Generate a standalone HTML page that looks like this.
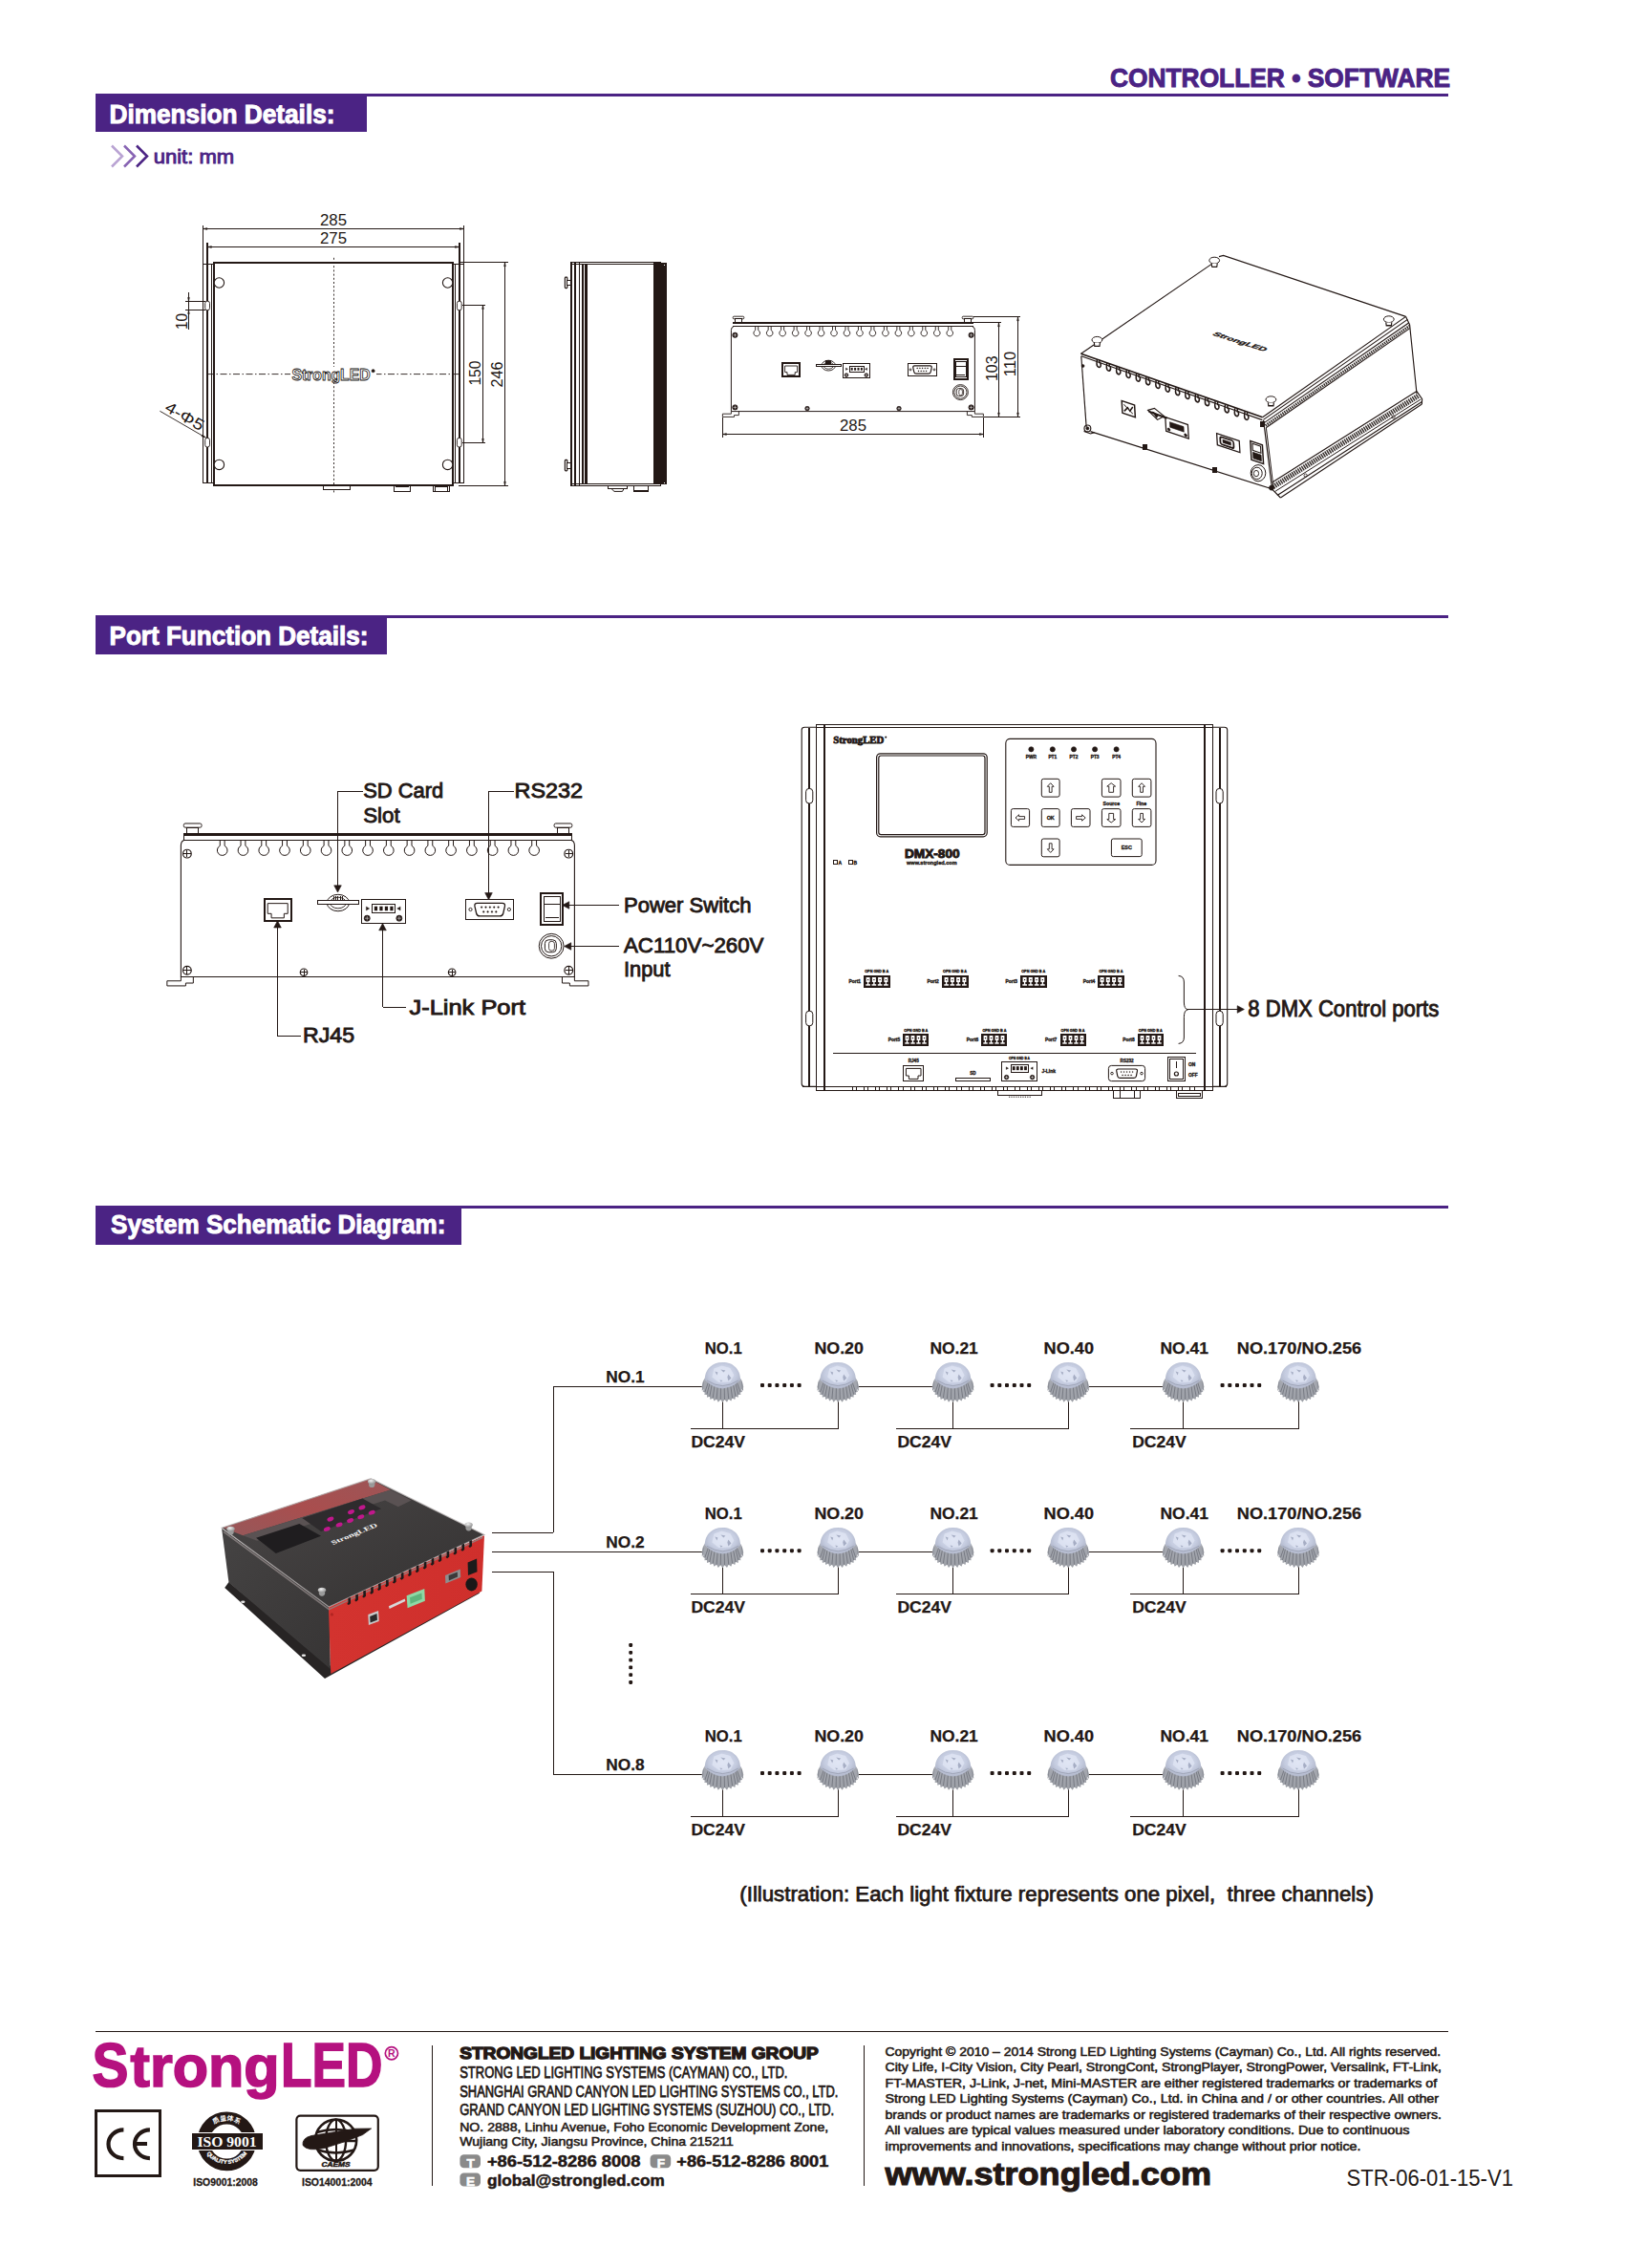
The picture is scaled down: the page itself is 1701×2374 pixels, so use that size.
<!DOCTYPE html>
<html lang="en">
<head>
<meta charset="utf-8">
<title>CONTROLLER • SOFTWARE</title>
<style>
html,body{margin:0;padding:0;background:#fff;}
body{width:1701px;height:2374px;overflow:hidden;font-family:"Liberation Sans",sans-serif;}
svg{display:block;position:absolute;left:0;top:0;}
svg text{font-family:"Liberation Sans",sans-serif;}
</style>
</head>
<body>
<svg width="1701" height="2374" viewBox="0 0 1701 2374" fill="none" stroke="#231815" stroke-width="1">
<!-- sec_header -->
<text x="1162" y="90.6" font-size="28.5" fill="#4b2384" font-weight="bold" textLength="356" lengthAdjust="spacingAndGlyphs" stroke="#4b2384" stroke-width="1.0">CONTROLLER • SOFTWARE</text>
<rect x="100" y="98" width="1416" height="3" fill="#4b2384" stroke="none" shape-rendering="crispEdges"/>
<rect x="100" y="98" width="284" height="40" fill="#4b2384" stroke="none" shape-rendering="crispEdges"/>
<text x="114.5" y="128.8" font-size="28.5" fill="#fff" font-weight="bold" textLength="236" lengthAdjust="spacingAndGlyphs" stroke="#fff" stroke-width="1.0">Dimension Details:</text>
<path d="M117 152.5 L128 163.5 L117 174.5" fill="none" stroke="#b9a3d3" stroke-width="2.5"/>
<path d="M130 152.5 L141 163.5 L130 174.5" fill="none" stroke="#8763b3" stroke-width="2.5"/>
<path d="M143 152.5 L154 163.5 L143 174.5" fill="none" stroke="#4b2384" stroke-width="2.5"/>
<text x="160.7" y="170.6" font-size="21" fill="#4b2384" textLength="84.5" lengthAdjust="spacingAndGlyphs" stroke="#4b2384" stroke-width="0.9">unit: mm</text>
<!-- sec_dim -->
<line x1="213" y1="239.5" x2="486" y2="239.5" shape-rendering="crispEdges"/>
<path d="M212.6 239.5 L216.8 238.6 L216.8 240.4Z" fill="#231815" stroke-width="0.5"/>
<path d="M485.6 239.5 L481.4 240.4 L481.4 238.6Z" fill="#231815" stroke-width="0.5"/>
<line x1="212.5" y1="236" x2="212.5" y2="506" shape-rendering="crispEdges"/>
<line x1="485.5" y1="236" x2="485.5" y2="506" shape-rendering="crispEdges"/>
<text x="335" y="236" font-size="16.5" fill="#231815" textLength="28" lengthAdjust="spacingAndGlyphs" stroke="none">285</text>
<line x1="217" y1="258.5" x2="481" y2="258.5" shape-rendering="crispEdges"/>
<path d="M217.2 258.5 L221.4 257.6 L221.4 259.4Z" fill="#231815" stroke-width="0.5"/>
<path d="M480.6 258.5 L476.4 259.4 L476.4 257.6Z" fill="#231815" stroke-width="0.5"/>
<line x1="217.0" y1="254" x2="217.0" y2="506" stroke-width="2" shape-rendering="crispEdges"/>
<line x1="481.0" y1="254" x2="481.0" y2="506" stroke-width="2" shape-rendering="crispEdges"/>
<text x="335" y="255.3" font-size="16.5" fill="#231815" textLength="28" lengthAdjust="spacingAndGlyphs" stroke="none">275</text>
<line x1="212" y1="276.5" x2="224" y2="276.5" shape-rendering="crispEdges"/>
<line x1="212" y1="505.5" x2="224" y2="505.5" shape-rendering="crispEdges"/>
<line x1="474" y1="276.5" x2="486" y2="276.5" shape-rendering="crispEdges"/>
<line x1="474" y1="505.5" x2="486" y2="505.5" shape-rendering="crispEdges"/>
<line x1="221.5" y1="276" x2="221.5" y2="506" shape-rendering="crispEdges"/>
<line x1="476.5" y1="276" x2="476.5" y2="506" shape-rendering="crispEdges"/>
<rect x="224.0" y="275.0" width="250.0" height="233.0" fill="none" stroke-width="2" shape-rendering="crispEdges"/>
<circle cx="229.4" cy="296" r="5.2" fill="#fff" stroke-width="1.1"/>
<circle cx="229.4" cy="486.4" r="5.2" fill="#fff" stroke-width="1.1"/>
<circle cx="468.6" cy="296" r="5.2" fill="#fff" stroke-width="1.1"/>
<circle cx="468.6" cy="486.4" r="5.2" fill="#fff" stroke-width="1.1"/>
<rect x="214.7" y="315.2" width="4.8" height="9.6" fill="#fff" stroke-width="0.9" rx="2.2"/>
<rect x="214.7" y="458.4" width="4.8" height="9.6" fill="#fff" stroke-width="0.9" rx="2.2"/>
<rect x="478.40000000000003" y="315.2" width="4.8" height="9.6" fill="#fff" stroke-width="0.9" rx="2.2"/>
<rect x="478.40000000000003" y="458.4" width="4.8" height="9.6" fill="#fff" stroke-width="0.9" rx="2.2"/>
<line x1="349.5" y1="269.8" x2="349.5" y2="515.5" stroke-width="0.9" stroke-dasharray="2 2.2"/>
<line x1="217" y1="391.6" x2="483" y2="391.6" stroke-width="0.9" stroke-dasharray="7 2.5 1.5 2.5"/>
<rect x="304" y="384" width="90" height="16" fill="#fff" stroke="none" shape-rendering="crispEdges"/>
<text x="305.5" y="398" font-size="17" fill="#fff" font-weight="bold" textLength="82" lengthAdjust="spacingAndGlyphs" stroke="#231815" stroke-width="0.9">StrongLED</text>
<circle cx="390.6" cy="388.2" r="1.6" fill="#231815" stroke-width="0.5"/>
<line x1="484" y1="319.5" x2="508" y2="319.5" shape-rendering="crispEdges"/>
<line x1="484" y1="463.5" x2="508" y2="463.5" shape-rendering="crispEdges"/>
<line x1="505.5" y1="319" x2="505.5" y2="464" shape-rendering="crispEdges"/>
<path d="M505.5 319.2 L506.4 323.4 L504.6 323.4Z" fill="#231815" stroke-width="0.5"/>
<path d="M505.5 463.5 L504.6 459.3 L506.4 459.3Z" fill="#231815" stroke-width="0.5"/>
<text x="503.2" y="403.6" font-size="16.5" fill="#231815" textLength="26" lengthAdjust="spacingAndGlyphs" stroke="none" transform="rotate(-90 503.2 403.6)">150</text>
<line x1="480" y1="274.5" x2="532" y2="274.5" shape-rendering="crispEdges"/>
<line x1="480" y1="508.5" x2="532" y2="508.5" shape-rendering="crispEdges"/>
<line x1="528.5" y1="275" x2="528.5" y2="508" shape-rendering="crispEdges"/>
<path d="M528.5 274.6 L529.4 278.8 L527.6 278.8Z" fill="#231815" stroke-width="0.5"/>
<path d="M528.5 508.4 L527.6 504.2 L529.4 504.2Z" fill="#231815" stroke-width="0.5"/>
<text x="526.3" y="405.4" font-size="16.5" fill="#231815" textLength="27" lengthAdjust="spacingAndGlyphs" stroke="none" transform="rotate(-90 526.3 405.4)">246</text>
<line x1="194" y1="315.5" x2="215" y2="315.5" shape-rendering="crispEdges"/>
<line x1="194" y1="324.5" x2="215" y2="324.5" shape-rendering="crispEdges"/>
<line x1="197.5" y1="306" x2="197.5" y2="345" shape-rendering="crispEdges"/>
<path d="M197.5 315.4 L196.6 311.4 L198.4 311.4Z" fill="#231815" stroke-width="0.5"/>
<path d="M197.5 324.5 L198.4 328.5 L196.6 328.5Z" fill="#231815" stroke-width="0.5"/>
<text x="195.8" y="345" font-size="16.5" fill="#231815" textLength="17" lengthAdjust="spacingAndGlyphs" stroke="none" transform="rotate(-90 195.8 345)">10</text>
<line x1="167.4" y1="430.3" x2="215.4" y2="458.1" stroke-width="0.9"/>
<path d="M215.4 458.1 L211.0 456.7 L212.0 455.0Z" fill="#231815" stroke-width="0.5"/>
<text x="171.5" y="429.5" font-size="16.5" fill="#231815" textLength="44" lengthAdjust="spacingAndGlyphs" stroke="none" transform="rotate(30 171.5 429.5)">4-Φ5</text>
<rect x="338.5" y="508.5" width="28.0" height="4.0" fill="#fff" shape-rendering="crispEdges"/>
<rect x="412.5" y="508.5" width="17.0" height="6.0" fill="#fff" shape-rendering="crispEdges"/>
<line x1="414" y1="509.5" x2="428" y2="509.5" shape-rendering="crispEdges"/>
<rect x="453.5" y="508.5" width="17.0" height="6.0" fill="#fff" shape-rendering="crispEdges"/>
<rect x="455.5" y="509.5" width="13.0" height="5.0" fill="none" shape-rendering="crispEdges"/>
<rect x="597.5" y="274.5" width="94.0" height="234.0" fill="#fff" shape-rendering="crispEdges"/>
<line x1="598" y1="276.5" x2="692" y2="276.5" shape-rendering="crispEdges"/>
<line x1="598" y1="506.5" x2="692" y2="506.5" shape-rendering="crispEdges"/>
<rect x="684.5" y="275.5" width="13.0" height="231.0" fill="#231815" shape-rendering="crispEdges"/>
<rect x="695" y="277" width="1" height="1" fill="#fff" stroke="none" shape-rendering="crispEdges"/>
<rect x="695" y="505" width="1" height="1" fill="#fff" stroke="none" shape-rendering="crispEdges"/>
<line x1="598.0" y1="274" x2="598.0" y2="508" stroke-width="2" shape-rendering="crispEdges"/>
<line x1="602.0" y1="274" x2="602.0" y2="508" stroke-width="2" shape-rendering="crispEdges"/>
<line x1="606.5" y1="274" x2="606.5" y2="508" shape-rendering="crispEdges"/>
<line x1="610.0" y1="276" x2="610.0" y2="506" stroke-width="2" shape-rendering="crispEdges"/>
<line x1="612.5" y1="276" x2="612.5" y2="506" shape-rendering="crispEdges"/>
<line x1="614.0" y1="276" x2="614.0" y2="506" stroke-width="2" shape-rendering="crispEdges"/>
<rect x="591.4" y="290.2" width="2.4" height="11.4" fill="#fff" stroke-width="1.2" rx="0.8"/>
<rect x="593.5" y="293.5" width="4.0" height="5.0" fill="#fff" shape-rendering="crispEdges"/>
<rect x="591.4" y="481.4" width="2.4" height="11.4" fill="#fff" stroke-width="1.2" rx="0.8"/>
<rect x="593.5" y="484.5" width="4.0" height="6.0" fill="#fff" shape-rendering="crispEdges"/>
<rect x="636.5" y="508.5" width="20.0" height="3.0" fill="#fff" shape-rendering="crispEdges"/>
<path d="M640 511.5 L653 511.5 L651.5 514.4 L643 514.4 Z" fill="#fff"/>
<rect x="663.5" y="508.5" width="15.0" height="6.0" fill="#fff" shape-rendering="crispEdges"/>
<line x1="663" y1="514.0" x2="679" y2="514.0" stroke-width="2" shape-rendering="crispEdges"/>
<rect x="767" y="337" width="252" height="2" fill="#231815" stroke="none" shape-rendering="crispEdges"/>
<line x1="767" y1="341.5" x2="1019" y2="341.5" shape-rendering="crispEdges"/>
<rect x="767.2" y="331.2" width="11.6" height="2.6" fill="#fff" stroke-width="0.9" rx="1.0"/>
<rect x="769.5" y="333.5" width="7.0" height="4.0" fill="#fff" shape-rendering="crispEdges"/>
<rect x="1007.2" y="331.2" width="11.6" height="2.6" fill="#fff" stroke-width="0.9" rx="1.0"/>
<rect x="1009.5" y="333.5" width="7.0" height="4.0" fill="#fff" shape-rendering="crispEdges"/>
<path d="M767.8 341.9 Q765.4 342.5 765.4 345.5 L765.4 430.6 L1020.4 430.6 L1020.4 345.5 Q1020.4 342.5 1018.0 341.9" fill="none" stroke-width="0.9900000000000001"/>
<path d="M790.70 341.9 L790.70 345.66 A3.3 3.3 0 1 0 793.70 345.66 L793.70 341.9" fill="none" stroke-width="0.9"/>
<path d="M804.17 341.9 L804.17 345.66 A3.3 3.3 0 1 0 807.17 345.66 L807.17 341.9" fill="none" stroke-width="0.9"/>
<path d="M817.64 341.9 L817.64 345.66 A3.3 3.3 0 1 0 820.64 345.66 L820.64 341.9" fill="none" stroke-width="0.9"/>
<path d="M831.11 341.9 L831.11 345.66 A3.3 3.3 0 1 0 834.11 345.66 L834.11 341.9" fill="none" stroke-width="0.9"/>
<path d="M844.58 341.9 L844.58 345.66 A3.3 3.3 0 1 0 847.58 345.66 L847.58 341.9" fill="none" stroke-width="0.9"/>
<path d="M858.05 341.9 L858.05 345.66 A3.3 3.3 0 1 0 861.05 345.66 L861.05 341.9" fill="none" stroke-width="0.9"/>
<path d="M871.52 341.9 L871.52 345.66 A3.3 3.3 0 1 0 874.52 345.66 L874.52 341.9" fill="none" stroke-width="0.9"/>
<path d="M884.99 341.9 L884.99 345.66 A3.3 3.3 0 1 0 887.99 345.66 L887.99 341.9" fill="none" stroke-width="0.9"/>
<path d="M898.46 341.9 L898.46 345.66 A3.3 3.3 0 1 0 901.46 345.66 L901.46 341.9" fill="none" stroke-width="0.9"/>
<path d="M911.93 341.9 L911.93 345.66 A3.3 3.3 0 1 0 914.93 345.66 L914.93 341.9" fill="none" stroke-width="0.9"/>
<path d="M925.40 341.9 L925.40 345.66 A3.3 3.3 0 1 0 928.40 345.66 L928.40 341.9" fill="none" stroke-width="0.9"/>
<path d="M938.87 341.9 L938.87 345.66 A3.3 3.3 0 1 0 941.87 345.66 L941.87 341.9" fill="none" stroke-width="0.9"/>
<path d="M952.34 341.9 L952.34 345.66 A3.3 3.3 0 1 0 955.34 345.66 L955.34 341.9" fill="none" stroke-width="0.9"/>
<path d="M965.81 341.9 L965.81 345.66 A3.3 3.3 0 1 0 968.81 345.66 L968.81 341.9" fill="none" stroke-width="0.9"/>
<path d="M979.28 341.9 L979.28 345.66 A3.3 3.3 0 1 0 982.28 345.66 L982.28 341.9" fill="none" stroke-width="0.9"/>
<path d="M992.75 341.9 L992.75 345.66 A3.3 3.3 0 1 0 995.75 345.66 L995.75 341.9" fill="none" stroke-width="0.9"/>
<circle cx="769.4" cy="350.8" r="2.7" fill="#231815" stroke-width="0.6"/>
<path d="M767.50 350.8 L771.30 350.8 M769.4 348.90 L769.4 352.70" fill="none" stroke="#fff" stroke-width="0.5"/>
<circle cx="1016.6" cy="350.8" r="2.7" fill="#231815" stroke-width="0.6"/>
<path d="M1014.70 350.8 L1018.50 350.8 M1016.6 348.90 L1016.6 352.70" fill="none" stroke="#fff" stroke-width="0.5"/>
<circle cx="769.4" cy="426.4" r="2.7" fill="#231815" stroke-width="0.6"/>
<path d="M767.50 426.4 L771.30 426.4 M769.4 424.50 L769.4 428.30" fill="none" stroke="#fff" stroke-width="0.5"/>
<circle cx="1016.6" cy="426.4" r="2.7" fill="#231815" stroke-width="0.6"/>
<path d="M1014.70 426.4 L1018.50 426.4 M1016.6 424.50 L1016.6 428.30" fill="none" stroke="#fff" stroke-width="0.5"/>
<circle cx="845.0" cy="427.6" r="2.3" fill="#231815" stroke-width="0.6"/>
<path d="M843.50 427.6 L846.50 427.6 M845.0 426.10 L845.0 429.10" fill="none" stroke="#fff" stroke-width="0.5"/>
<circle cx="941.0" cy="427.6" r="2.3" fill="#231815" stroke-width="0.6"/>
<path d="M939.50 427.6 L942.50 427.6 M941.0 426.10 L941.0 429.10" fill="none" stroke="#fff" stroke-width="0.5"/>
<path d="M765.4 430.6 L765.4 433.2 L756.4 433.2 L756.4 436.4 L768.5 436.4 L768.5 434.6 L773.4 434.6 L773.4 430.6" fill="none" stroke-width="0.9"/>
<path d="M1020.4 430.6 L1020.4 433.2 L1029.4 433.2 L1029.4 436.4 L1017.3 436.4 L1017.3 434.6 L1012.4 434.6 L1012.4 430.6" fill="none" stroke-width="0.9"/>
<rect x="819.0" y="380.0" width="18.0" height="14.0" fill="#fff" stroke-width="2" shape-rendering="crispEdges"/>
<path d="M821.6 383.0 L834.6 383.0 L834.6 389.6 L832.2 389.6 L832.2 392.4 L824.0 392.4 L824.0 389.6 L821.6 389.6 Z" fill="none" stroke-width="0.9"/>
<ellipse cx="867.2" cy="382.6" rx="7.2" ry="5.4" fill="#fff" stroke-width="0.9"/>
<ellipse cx="867.2" cy="382.6" rx="5.2" ry="3.6" stroke-width="0.81"/>
<rect x="854.5" y="381.5" width="26.0" height="2.0" fill="#fff" shape-rendering="crispEdges"/>
<rect x="864.5" y="377.5" width="5.0" height="4.0" fill="#231815" shape-rendering="crispEdges"/>
<rect x="882.5" y="380.5" width="28.0" height="15.0" fill="#fff" shape-rendering="crispEdges"/>
<rect x="889.5" y="383.5" width="15.0" height="6.0" fill="#fff" shape-rendering="crispEdges"/>
<rect x="890.7" y="384.9" width="2.0" height="2.8" fill="#231815" stroke="none"/>
<rect x="894.1" y="384.9" width="2.0" height="2.8" fill="#231815" stroke="none"/>
<rect x="897.5" y="384.9" width="2.0" height="2.8" fill="#231815" stroke="none"/>
<rect x="900.9" y="384.9" width="2.0" height="2.8" fill="#231815" stroke="none"/>
<path d="M887.6 386.3 l-2.2 -1.3 l0 2.6Z" fill="#231815" stroke-width="0.27"/>
<path d="M905.4 386.3 l2.2 -1.3 l0 2.6Z" fill="#231815" stroke-width="0.27"/>
<circle cx="886.0" cy="392.6" r="1.9" fill="#231815" stroke-width="0.6"/>
<path d="M884.90 392.6 L887.10 392.6 M886.0 391.50 L886.0 393.70" fill="none" stroke="#fff" stroke-width="0.5"/>
<circle cx="906.8" cy="392.6" r="1.9" fill="#231815" stroke-width="0.6"/>
<path d="M905.70 392.6 L907.90 392.6 M906.8 391.50 L906.8 393.70" fill="none" stroke="#fff" stroke-width="0.5"/>
<rect x="950.5" y="380.5" width="30.0" height="13.0" fill="#fff" shape-rendering="crispEdges"/>
<path d="M957.4 382.8 L973.6 382.8 Q975.6 382.8 975.2 385.0 L974.2 389.4 Q973.8 391.2 972.0 391.2 L959.0 391.2 Q957.2 391.2 956.8 389.4 L955.8 385.0 Q955.4 382.8 957.4 382.8Z" fill="#fff" stroke-width="1.1700000000000002"/>
<circle cx="960.2" cy="385.4" r="0.55" fill="#231815" stroke-width="0.3"/>
<circle cx="962.9" cy="385.4" r="0.55" fill="#231815" stroke-width="0.3"/>
<circle cx="965.6" cy="385.4" r="0.55" fill="#231815" stroke-width="0.3"/>
<circle cx="968.3" cy="385.4" r="0.55" fill="#231815" stroke-width="0.3"/>
<circle cx="971.0" cy="385.4" r="0.55" fill="#231815" stroke-width="0.3"/>
<circle cx="961.5" cy="388.4" r="0.55" fill="#231815" stroke-width="0.3"/>
<circle cx="964.2" cy="388.4" r="0.55" fill="#231815" stroke-width="0.3"/>
<circle cx="966.9" cy="388.4" r="0.55" fill="#231815" stroke-width="0.3"/>
<circle cx="969.6" cy="388.4" r="0.55" fill="#231815" stroke-width="0.3"/>
<circle cx="953.0" cy="386.9" r="1.0" fill="none" stroke-width="0.81"/>
<circle cx="978.0" cy="386.9" r="1.0" fill="none" stroke-width="0.81"/>
<rect x="999.0" y="376.0" width="14.0" height="21.0" fill="#fff" stroke-width="2" shape-rendering="crispEdges"/>
<rect x="1000.5" y="378.5" width="11.0" height="16.0" fill="#fff" shape-rendering="crispEdges"/>
<line x1="1001" y1="383.5" x2="1011" y2="383.5" shape-rendering="crispEdges"/>
<line x1="1001" y1="392.5" x2="1010" y2="392.5" shape-rendering="crispEdges"/>
<circle cx="1005.4" cy="410.6" r="8.0" fill="#fff" stroke-width="0.9"/>
<circle cx="1005.4" cy="410.6" r="6.6" fill="none" stroke-width="0.9"/>
<rect x="1001.2" y="406.6" width="7.4" height="8.0" fill="#fff" stroke-width="0.9" rx="2.4"/>
<rect x="1003.8" y="407.6" width="3.6" height="6.0" fill="none" stroke-width="0.7200000000000001" rx="1.5"/>
<line x1="756.5" y1="437" x2="756.5" y2="458" shape-rendering="crispEdges"/>
<line x1="1029.5" y1="437" x2="1029.5" y2="458" shape-rendering="crispEdges"/>
<line x1="756" y1="454.5" x2="1030" y2="454.5" shape-rendering="crispEdges"/>
<path d="M756.2 454.5 L760.4 453.6 L760.4 455.4Z" fill="#231815" stroke-width="0.5"/>
<path d="M1029.6 454.5 L1025.4 455.4 L1025.4 453.6Z" fill="#231815" stroke-width="0.5"/>
<text x="879" y="450.8" font-size="16.5" fill="#231815" textLength="28" lengthAdjust="spacingAndGlyphs" stroke="none">285</text>
<line x1="1019" y1="337.5" x2="1048" y2="337.5" shape-rendering="crispEdges"/>
<line x1="1019" y1="331.5" x2="1068" y2="331.5" shape-rendering="crispEdges"/>
<line x1="1030" y1="436.5" x2="1068" y2="436.5" shape-rendering="crispEdges"/>
<line x1="1045.5" y1="338" x2="1045.5" y2="436" shape-rendering="crispEdges"/>
<path d="M1045.5 337.6 L1046.4 341.8 L1044.6 341.8Z" fill="#231815" stroke-width="0.5"/>
<path d="M1045.5 436.3 L1044.6 432.1 L1046.4 432.1Z" fill="#231815" stroke-width="0.5"/>
<line x1="1065.5" y1="332" x2="1065.5" y2="436" shape-rendering="crispEdges"/>
<path d="M1065.5 331.5 L1066.4 335.7 L1064.6 335.7Z" fill="#231815" stroke-width="0.5"/>
<path d="M1065.5 436.3 L1064.6 432.1 L1066.4 432.1Z" fill="#231815" stroke-width="0.5"/>
<text x="1043.6" y="399" font-size="16.5" fill="#231815" textLength="26.5" lengthAdjust="spacingAndGlyphs" stroke="none" transform="rotate(-90 1043.6 399)">103</text>
<text x="1063" y="394.2" font-size="16.5" fill="#231815" textLength="26.5" lengthAdjust="spacingAndGlyphs" stroke="none" transform="rotate(-90 1063 394.2)">110</text>
<path d="M1131.5 370.2 L1268 276.6" fill="none" stroke-width="1.15"/>
<path d="M1276 268.6 L1280.6 267.4 L1471.6 331.4" fill="none" stroke-width="1.15"/>
<path d="M1131.5 370.2 L1321.6 436.8" fill="none" stroke-width="1.6"/>
<path d="M1131.8 372.8 L1321.4 439.6" fill="none" stroke-width="1.15"/>
<path d="M1321.6 436.8 L1471.6 331.4" fill="none" stroke-width="1.15"/>
<path d="M1322.4 439.4 L1473.4 334.4" fill="none" stroke-width="1.15"/>
<path d="M1323.6 442.4 L1474.6 338" fill="none" stroke-width="1.15"/>
<path d="M1324.6 445.4 L1475.4 341.2" fill="none" stroke="#3a3330" stroke-width="2.8" stroke-dasharray="1.5 0.9"/>
<path d="M1325.2 447.8 L1475.8 343.6" fill="none" stroke-width="1.15"/>
<path d="M1471.6 331.4 L1475.6 340 L1483 412" fill="none" stroke-width="1.15"/>
<path d="M1131.8 372.8 L1137.2 447.4" fill="none" stroke-width="1.15"/>
<path d="M1141.5 451.6 L1331.4 511.8" fill="none" stroke-width="1.15"/>
<path d="M1322.6 440 L1331.6 512" fill="none" stroke-width="1.15"/>
<path d="M1325.4 448 L1333 510" fill="none"/>
<rect x="1319.5" y="441.5" width="4.0" height="5.0" fill="#231815" shape-rendering="crispEdges"/>
<circle cx="1133.6" cy="383" r="1.5" fill="#231815" stroke-width="0.5"/>
<circle cx="1138.4" cy="448.4" r="3.4" fill="none" stroke-width="1.15"/>
<circle cx="1138.4" cy="448.4" r="1.6" fill="#231815" stroke-width="0.5"/>
<path d="M1134.6 451.4 L1141.6 454 L1145.6 452.6" fill="none" stroke-width="1.15"/>
<path d="M1331.6 505 L1483 409.6" fill="none" stroke-width="1.15"/>
<path d="M1332.6 509.6 L1485 414" fill="none" stroke="#3a3330" stroke-width="5.4" stroke-dasharray="1.5 0.9"/>
<path d="M1334.4 514.6 L1487.2 418" fill="none"/>
<path d="M1337 518.6 L1488.4 420.6" fill="none" stroke-width="1.15"/>
<path d="M1340.4 521 L1488.4 423" fill="none" stroke-width="1.15"/>
<path d="M1331.4 511.8 L1340.4 521" fill="none" stroke-width="1.2"/>
<path d="M1483 409.6 L1488.6 417.6 L1488.4 423" fill="none" stroke-width="1.15"/>
<circle cx="1331" cy="510.6" r="2.6" fill="#231815" stroke-width="0.5"/>
<circle cx="1366.6" cy="497.6" r="1.6" fill="none" stroke-width="0.8"/>
<circle cx="1458.6" cy="436.4" r="1.6" fill="none" stroke-width="0.8"/>
<ellipse cx="1271.2" cy="272.6" rx="5.4" ry="3.4" fill="#fff" stroke-width="1"/>
<path d="M1268.2 275.8 L1268.6000000000001 279.20000000000005 L1273.8 279.20000000000005 L1274.2 275.8" fill="#fff" stroke-width="1.15"/>
<line x1="1269" y1="279.5" x2="1274" y2="279.5" shape-rendering="crispEdges"/>
<ellipse cx="1148.4" cy="355.8" rx="5.4" ry="3.4" fill="#fff" stroke-width="1"/>
<path d="M1145.4 359.0 L1145.8000000000002 362.40000000000003 L1151.0 362.40000000000003 L1151.4 359.0" fill="#fff" stroke-width="1.15"/>
<line x1="1146" y1="362.5" x2="1151" y2="362.5" shape-rendering="crispEdges"/>
<ellipse cx="1453.8" cy="334.2" rx="5.4" ry="3.4" fill="#fff" stroke-width="1"/>
<path d="M1450.8 337.4 L1451.2 340.8 L1456.3999999999999 340.8 L1456.8 337.4" fill="#fff" stroke-width="1.15"/>
<line x1="1451" y1="340.5" x2="1456" y2="340.5" shape-rendering="crispEdges"/>
<ellipse cx="1330.4" cy="418.2" rx="5.4" ry="3.4" fill="#fff" stroke-width="1"/>
<path d="M1327.4 421.4 L1327.8000000000002 424.8 L1333.0 424.8 L1333.4 421.4" fill="#fff" stroke-width="1.15"/>
<line x1="1328" y1="424.5" x2="1333" y2="424.5" shape-rendering="crispEdges"/>
<path d="M1148.4 376.2 L1148.0 380.6 Q1148.0 384.2 1150.8 384.6 Q1153.0 383.6 1152.0 380.2 L1150.8 379.6 L1151.0 376.8" fill="none" stroke-width="1.5"/>
<path d="M1158.7 379.9 L1158.3 384.3 Q1158.3 387.9 1161.1 388.3 Q1163.3 387.3 1162.3 383.9 L1161.1 383.3 L1161.3 380.5" fill="none" stroke-width="1.5"/>
<path d="M1169.0 383.5 L1168.6 387.9 Q1168.6 391.5 1171.4 391.9 Q1173.6 390.9 1172.6 387.5 L1171.4 386.9 L1171.6 384.1" fill="none" stroke-width="1.5"/>
<path d="M1179.3 387.2 L1178.9 391.6 Q1178.9 395.2 1181.7 395.6 Q1183.9 394.6 1182.9 391.2 L1181.7 390.6 L1181.9 387.8" fill="none" stroke-width="1.5"/>
<path d="M1189.6 390.8 L1189.2 395.2 Q1189.2 398.8 1192.0 399.2 Q1194.2 398.2 1193.2 394.8 L1192.0 394.2 L1192.2 391.4" fill="none" stroke-width="1.5"/>
<path d="M1199.9 394.5 L1199.5 398.9 Q1199.5 402.5 1202.3 402.9 Q1204.5 401.9 1203.5 398.5 L1202.3 397.9 L1202.5 395.1" fill="none" stroke-width="1.5"/>
<path d="M1210.2 398.1 L1209.8 402.5 Q1209.8 406.1 1212.6 406.5 Q1214.8 405.5 1213.8 402.1 L1212.6 401.5 L1212.8 398.7" fill="none" stroke-width="1.5"/>
<path d="M1220.5 401.8 L1220.1 406.2 Q1220.1 409.8 1222.9 410.2 Q1225.1 409.2 1224.1 405.8 L1222.9 405.2 L1223.1 402.4" fill="none" stroke-width="1.5"/>
<path d="M1230.9 405.4 L1230.5 409.8 Q1230.5 413.4 1233.3 413.8 Q1235.5 412.8 1234.5 409.4 L1233.3 408.8 L1233.5 406.0" fill="none" stroke-width="1.5"/>
<path d="M1241.2 409.1 L1240.8 413.5 Q1240.8 417.1 1243.6 417.5 Q1245.8 416.5 1244.8 413.1 L1243.6 412.5 L1243.8 409.7" fill="none" stroke-width="1.5"/>
<path d="M1251.5 412.7 L1251.1 417.1 Q1251.1 420.7 1253.9 421.1 Q1256.1 420.1 1255.1 416.7 L1253.9 416.1 L1254.1 413.3" fill="none" stroke-width="1.5"/>
<path d="M1261.8 416.4 L1261.4 420.8 Q1261.4 424.4 1264.2 424.8 Q1266.4 423.8 1265.4 420.4 L1264.2 419.8 L1264.4 417.0" fill="none" stroke-width="1.5"/>
<path d="M1272.1 420.0 L1271.7 424.4 Q1271.7 428.0 1274.5 428.4 Q1276.7 427.4 1275.7 424.0 L1274.5 423.4 L1274.7 420.6" fill="none" stroke-width="1.5"/>
<path d="M1282.4 423.7 L1282.0 428.1 Q1282.0 431.7 1284.8 432.1 Q1287.0 431.1 1286.0 427.7 L1284.8 427.1 L1285.0 424.3" fill="none" stroke-width="1.5"/>
<path d="M1292.7 427.3 L1292.3 431.7 Q1292.3 435.3 1295.1 435.7 Q1297.3 434.7 1296.3 431.3 L1295.1 430.7 L1295.3 427.9" fill="none" stroke-width="1.5"/>
<path d="M1303.0 431.0 L1302.6 435.4 Q1302.6 439.0 1305.4 439.4 Q1307.6 438.4 1306.6 435.0 L1305.4 434.4 L1305.6 431.6" fill="none" stroke-width="1.5"/>
<g transform="translate(1174.2 419.6) matrix(1 0.335 0.06 1 0 0)">
<rect x="0" y="0" width="13.4" height="12.6" fill="#fff" stroke-width="1.5"/>
<path d="M2 10 L6 5 L8 8 L11.4 2.6" fill="none" stroke-width="1.4"/>
<line x1="2" y1="3" x2="11" y2="10"/>
</g>
<g transform="translate(1219.8 436.6) matrix(1 0.335 0.06 1 0 0)">
<rect x="0" y="0" width="23.6" height="14.6" fill="#fff" stroke-width="1.3"/>
<rect x="4.4" y="3.6" width="14.6" height="5.6" fill="#231815" stroke-width="0.5"/>
<circle cx="3" cy="12" r="1.5" fill="#231815" stroke-width="0.4"/>
<circle cx="20.6" cy="12" r="1.5" fill="#231815" stroke-width="0.4"/>
</g>
<g transform="translate(1273.6 453.6) matrix(1 0.335 0.06 1 0 0)">
<rect x="0" y="0" width="23.6" height="12.2" fill="#fff" stroke-width="1.3"/>
<rect x="3.4" y="2.2" width="14" height="7.8" fill="#fff" stroke-width="1.8" rx="2"/>
<rect x="6" y="4.4" width="8.6" height="3.4" fill="#231815" stroke-width="0.4"/>
</g>
<g transform="translate(1308.8 461.6) matrix(1 0.335 0.06 1 0 0)">
<rect x="0" y="0" width="12.6" height="19.6" fill="#fff" stroke-width="1.5"/>
<rect x="2" y="2" width="8.6" height="7" fill="#fff" stroke-width="1.15"/>
<rect x="2" y="11" width="8.6" height="6.6" fill="#231815" stroke-width="0.6"/>
</g>
<path d="M1201.6 429.4 L1208.4 427.4 L1218.6 435.6 L1211.6 439.4 Z" fill="#fff" stroke-width="1.1"/>
<path d="M1206.6 431 L1212.6 434.6 L1210.6 437.4 Z" fill="#231815" stroke-width="0.8"/>
<path d="M1202.6 430.6 L1221.6 437.8" fill="none" stroke-width="2"/>
<ellipse cx="1317" cy="495.2" rx="7.8" ry="8.6" fill="#fff" stroke-width="1"/>
<ellipse cx="1315.8" cy="495.4" rx="5.4" ry="6.2" stroke-width="1"/>
<ellipse cx="1315" cy="495.6" rx="2.6" ry="3.2" stroke-width="0.9"/>
<rect x="1196.5" y="465.5" width="4.0" height="5.0" fill="#231815" shape-rendering="crispEdges"/>
<rect x="1269.5" y="489.5" width="4.0" height="5.0" fill="#231815" shape-rendering="crispEdges"/>
<g transform="translate(1268.5 350.5) matrix(0.944 0.3 -0.58 0.4 0 0)">
<text x="0" y="0" font-size="11.5" fill="#231815" font-weight="bold" textLength="58" lengthAdjust="spacingAndGlyphs" stroke="#231815" stroke-width="0.5">StrongLED</text>
</g>
<!-- sec_port -->
<rect x="100" y="644" width="1416" height="3" fill="#4b2384" stroke="none" shape-rendering="crispEdges"/>
<rect x="100" y="644" width="305" height="41" fill="#4b2384" stroke="none" shape-rendering="crispEdges"/>
<text x="114.5" y="674.6" font-size="28.5" fill="#fff" font-weight="bold" textLength="271" lengthAdjust="spacingAndGlyphs" stroke="#fff" stroke-width="1.0">Port Function Details:</text>
<rect x="193" y="872" width="406" height="3" fill="#231815" stroke="none" shape-rendering="crispEdges"/>
<line x1="192.5" y1="872" x2="192.5" y2="879" shape-rendering="crispEdges"/>
<line x1="598.5" y1="872" x2="598.5" y2="879" shape-rendering="crispEdges"/>
<line x1="192" y1="879.5" x2="599" y2="879.5" shape-rendering="crispEdges"/>
<rect x="192.31" y="861.96" width="18.74" height="4.2" fill="#fff" rx="1.62"/>
<rect x="195.5" y="866.5" width="12.0" height="6.0" fill="#fff" shape-rendering="crispEdges"/>
<rect x="580.08" y="861.96" width="18.74" height="4.2" fill="#fff" rx="1.62"/>
<rect x="583.5" y="866.5" width="12.0" height="6.0" fill="#fff" shape-rendering="crispEdges"/>
<path d="M193.28 879.25 Q189.4 880.22 189.4 885.06 L189.4 1022.56 L601.4 1022.56 L601.4 885.06 Q601.4 880.22 597.53 879.25" fill="none" stroke-width="1.1"/>
<path d="M230.28 879.25 L230.28 885.32 A5.33 5.33 0 1 0 235.12 885.32 L235.12 879.25" fill="none"/>
<path d="M252.04 879.25 L252.04 885.32 A5.33 5.33 0 1 0 256.88 885.32 L256.88 879.25" fill="none"/>
<path d="M273.81 879.25 L273.81 885.32 A5.33 5.33 0 1 0 278.65 885.32 L278.65 879.25" fill="none"/>
<path d="M295.57 879.25 L295.57 885.32 A5.33 5.33 0 1 0 300.41 885.32 L300.41 879.25" fill="none"/>
<path d="M317.33 879.25 L317.33 885.32 A5.33 5.33 0 1 0 322.17 885.32 L322.17 879.25" fill="none"/>
<path d="M339.10 879.25 L339.10 885.32 A5.33 5.33 0 1 0 343.94 885.32 L343.94 879.25" fill="none"/>
<path d="M360.86 879.25 L360.86 885.32 A5.33 5.33 0 1 0 365.70 885.32 L365.70 879.25" fill="none"/>
<path d="M382.63 879.25 L382.63 885.32 A5.33 5.33 0 1 0 387.47 885.32 L387.47 879.25" fill="none"/>
<path d="M404.39 879.25 L404.39 885.32 A5.33 5.33 0 1 0 409.23 885.32 L409.23 879.25" fill="none"/>
<path d="M426.15 879.25 L426.15 885.32 A5.33 5.33 0 1 0 430.99 885.32 L430.99 879.25" fill="none"/>
<path d="M447.92 879.25 L447.92 885.32 A5.33 5.33 0 1 0 452.76 885.32 L452.76 879.25" fill="none"/>
<path d="M469.68 879.25 L469.68 885.32 A5.33 5.33 0 1 0 474.52 885.32 L474.52 879.25" fill="none"/>
<path d="M491.44 879.25 L491.44 885.32 A5.33 5.33 0 1 0 496.28 885.32 L496.28 879.25" fill="none"/>
<path d="M513.21 879.25 L513.21 885.32 A5.33 5.33 0 1 0 518.05 885.32 L518.05 879.25" fill="none"/>
<path d="M534.97 879.25 L534.97 885.32 A5.33 5.33 0 1 0 539.81 885.32 L539.81 879.25" fill="none"/>
<path d="M556.73 879.25 L556.73 885.32 A5.33 5.33 0 1 0 561.57 885.32 L561.57 879.25" fill="none"/>
<circle cx="195.86" cy="893.63" r="4.36" fill="#fff" stroke-width="1.2"/>
<line x1="192" y1="893.5" x2="200" y2="893.5" shape-rendering="crispEdges"/>
<line x1="195.5" y1="890" x2="195.5" y2="897" shape-rendering="crispEdges"/>
<circle cx="595.26" cy="893.63" r="4.36" fill="#fff" stroke-width="1.2"/>
<line x1="592" y1="893.5" x2="599" y2="893.5" shape-rendering="crispEdges"/>
<line x1="595.5" y1="890" x2="595.5" y2="897" shape-rendering="crispEdges"/>
<circle cx="195.86" cy="1015.77" r="4.36" fill="#fff" stroke-width="1.2"/>
<line x1="192" y1="1015.5" x2="200" y2="1015.5" shape-rendering="crispEdges"/>
<line x1="195.5" y1="1012" x2="195.5" y2="1020" shape-rendering="crispEdges"/>
<circle cx="595.26" cy="1015.77" r="4.36" fill="#fff" stroke-width="1.2"/>
<line x1="592" y1="1015.5" x2="599" y2="1015.5" shape-rendering="crispEdges"/>
<line x1="595.5" y1="1012" x2="595.5" y2="1020" shape-rendering="crispEdges"/>
<circle cx="318.01" cy="1017.71" r="3.72" fill="#fff" stroke-width="1.2"/>
<line x1="315" y1="1017.5" x2="321" y2="1017.5" shape-rendering="crispEdges"/>
<line x1="318.5" y1="1015" x2="318.5" y2="1021" shape-rendering="crispEdges"/>
<circle cx="473.12" cy="1017.71" r="3.72" fill="#fff" stroke-width="1.2"/>
<line x1="470" y1="1017.5" x2="476" y2="1017.5" shape-rendering="crispEdges"/>
<line x1="473.5" y1="1015" x2="473.5" y2="1021" shape-rendering="crispEdges"/>
<path d="M189.4 1022.56 L189.4 1026.76 L174.86 1026.76 L174.86 1031.93 L194.41 1031.93 L194.41 1029.02 L202.33 1029.02 L202.33 1022.56" fill="none"/>
<path d="M601.4 1022.56 L601.4 1026.76 L615.94 1026.76 L615.94 1031.93 L596.39 1031.93 L596.39 1029.02 L588.48 1029.02 L588.48 1022.56" fill="none"/>
<rect x="277.0" y="941.0" width="28.0" height="23.0" fill="#fff" stroke-width="2" shape-rendering="crispEdges"/>
<path d="M280.2 945.65 L301.21 945.65 L301.21 956.32 L297.33 956.32 L297.33 960.84 L284.08 960.84 L284.08 956.32 L280.2 956.32 Z" fill="none"/>
<ellipse cx="353.88" cy="945.01" rx="11.63" ry="8.72" fill="#fff" stroke-width="1.0"/>
<ellipse cx="353.88" cy="945.01" rx="8.4" ry="5.82" stroke-width="0.9"/>
<rect x="332.5" y="942.5" width="43.0" height="4.0" fill="#fff" shape-rendering="crispEdges"/>
<line x1="349.5" y1="938" x2="349.5" y2="942" shape-rendering="crispEdges"/>
<line x1="351.5" y1="938" x2="351.5" y2="942" shape-rendering="crispEdges"/>
<line x1="353.5" y1="938" x2="353.5" y2="942" shape-rendering="crispEdges"/>
<line x1="356.5" y1="938" x2="356.5" y2="942" shape-rendering="crispEdges"/>
<line x1="358.5" y1="938" x2="358.5" y2="942" shape-rendering="crispEdges"/>
<rect x="378.5" y="941.5" width="46.0" height="25.0" fill="#fff" shape-rendering="crispEdges"/>
<rect x="389.5" y="946.5" width="24.0" height="9.0" fill="#fff" shape-rendering="crispEdges"/>
<rect x="391.85" y="948.72" width="3.23" height="4.52" fill="#231815" stroke="none"/>
<rect x="397.34" y="948.72" width="3.23" height="4.52" fill="#231815" stroke="none"/>
<rect x="402.83" y="948.72" width="3.23" height="4.52" fill="#231815" stroke="none"/>
<rect x="408.33" y="948.72" width="3.23" height="4.52" fill="#231815" stroke="none"/>
<path d="M386.84 950.98 l-3.55 -2.1 l0 4.2Z" fill="#231815" stroke-width="0.3"/>
<path d="M415.6 950.98 l3.55 -2.1 l0 4.2Z" fill="#231815" stroke-width="0.3"/>
<circle cx="384.25" cy="961.16" r="3.07" fill="#231815" stroke-width="0.6"/>
<path d="M381.98 961.16 L386.52 961.16 M384.25 958.89 L384.25 963.43" fill="none" stroke="#fff" stroke-width="0.5"/>
<circle cx="417.86" cy="961.16" r="3.07" fill="#231815" stroke-width="0.6"/>
<path d="M415.59 961.16 L420.13 961.16 M417.86 958.89 L417.86 963.43" fill="none" stroke="#fff" stroke-width="0.5"/>
<rect x="487.5" y="941.5" width="50.0" height="21.0" fill="#fff" shape-rendering="crispEdges"/>
<path d="M499.61 945.33 L525.79 945.33 Q529.02 945.33 528.37 948.88 L526.76 955.99 Q526.11 958.9 523.2 958.9 L502.2 958.9 Q499.29 958.9 498.64 955.99 L497.03 948.88 Q496.38 945.33 499.61 945.33Z" fill="#fff" stroke-width="1.3"/>
<circle cx="504.14" cy="949.53" r="0.89" fill="#231815" stroke-width="0.3"/>
<circle cx="508.5" cy="949.53" r="0.89" fill="#231815" stroke-width="0.3"/>
<circle cx="512.86" cy="949.53" r="0.89" fill="#231815" stroke-width="0.3"/>
<circle cx="517.23" cy="949.53" r="0.89" fill="#231815" stroke-width="0.3"/>
<circle cx="521.59" cy="949.53" r="0.89" fill="#231815" stroke-width="0.3"/>
<circle cx="506.24" cy="954.38" r="0.89" fill="#231815" stroke-width="0.3"/>
<circle cx="510.6" cy="954.38" r="0.89" fill="#231815" stroke-width="0.3"/>
<circle cx="514.96" cy="954.38" r="0.89" fill="#231815" stroke-width="0.3"/>
<circle cx="519.33" cy="954.38" r="0.89" fill="#231815" stroke-width="0.3"/>
<circle cx="492.51" cy="951.95" r="1.62" fill="none" stroke-width="0.9"/>
<circle cx="532.9" cy="951.95" r="1.62" fill="none" stroke-width="0.9"/>
<rect x="566.0" y="935.0" width="23.0" height="33.0" fill="#fff" stroke-width="2" shape-rendering="crispEdges"/>
<rect x="569.5" y="938.5" width="17.0" height="26.0" fill="#fff" shape-rendering="crispEdges"/>
<line x1="569" y1="946.5" x2="586" y2="946.5" shape-rendering="crispEdges"/>
<line x1="571" y1="960.5" x2="585" y2="960.5" shape-rendering="crispEdges"/>
<circle cx="577.17" cy="990.25" r="12.93" fill="#fff"/>
<circle cx="577.17" cy="990.25" r="10.66" fill="none"/>
<rect x="570.38" y="983.78" width="11.96" height="12.93" fill="#fff" rx="3.88"/>
<rect x="574.58" y="985.4" width="5.82" height="9.69" fill="none" stroke-width="0.8" rx="2.42"/>
<line x1="380" y1="828.5" x2="353" y2="828.5" shape-rendering="crispEdges"/>
<line x1="353.5" y1="828" x2="353.5" y2="927" shape-rendering="crispEdges"/>
<path d="M353.5 934.0 L349.7 926.8 L357.3 926.8Z" fill="#231815" stroke-width="0.6"/>
<line x1="538" y1="828.5" x2="512" y2="828.5" shape-rendering="crispEdges"/>
<line x1="511.5" y1="828" x2="511.5" y2="935" shape-rendering="crispEdges"/>
<path d="M511.5 941.8 L507.7 934.6 L515.3 934.6Z" fill="#231815" stroke-width="0.6"/>
<line x1="648" y1="947.5" x2="595" y2="947.5" shape-rendering="crispEdges"/>
<path d="M588.6 947.5 L595.8 943.7 L595.8 951.3Z" fill="#231815" stroke-width="0.6"/>
<line x1="648" y1="990.5" x2="597" y2="990.5" shape-rendering="crispEdges"/>
<path d="M590.6 990.5 L597.8 986.7 L597.8 994.3Z" fill="#231815" stroke-width="0.6"/>
<line x1="425" y1="1054.5" x2="401" y2="1054.5" shape-rendering="crispEdges"/>
<line x1="400.5" y1="1054" x2="400.5" y2="973" shape-rendering="crispEdges"/>
<path d="M400.5 966.6 L404.3 973.8 L396.7 973.8Z" fill="#231815" stroke-width="0.6"/>
<line x1="315" y1="1084.5" x2="291" y2="1084.5" shape-rendering="crispEdges"/>
<line x1="290.5" y1="1085" x2="290.5" y2="970" shape-rendering="crispEdges"/>
<path d="M290.5 963.8 L294.3 971.0 L286.7 971.0Z" fill="#231815" stroke-width="0.6"/>
<text x="380.2" y="835.4" font-size="22.8" fill="#231815" textLength="84" lengthAdjust="spacingAndGlyphs" stroke="#231815" stroke-width="0.9">SD Card</text>
<text x="380.2" y="860.6" font-size="22.8" fill="#231815" textLength="38.5" lengthAdjust="spacingAndGlyphs" stroke="#231815" stroke-width="0.9">Slot</text>
<text x="538.6" y="835.4" font-size="22.8" fill="#231815" textLength="71.5" lengthAdjust="spacingAndGlyphs" stroke="#231815" stroke-width="0.9">RS232</text>
<text x="653" y="954.6" font-size="22.8" fill="#231815" textLength="133.5" lengthAdjust="spacingAndGlyphs" stroke="#231815" stroke-width="0.9">Power Switch</text>
<text x="653" y="996.6" font-size="22.8" fill="#231815" textLength="146.5" lengthAdjust="spacingAndGlyphs" stroke="#231815" stroke-width="0.9">AC110V~260V</text>
<text x="653" y="1021.6" font-size="22.8" fill="#231815" textLength="48.5" lengthAdjust="spacingAndGlyphs" stroke="#231815" stroke-width="0.9">Input</text>
<text x="428.5" y="1061.5" font-size="22.8" fill="#231815" textLength="121.5" lengthAdjust="spacingAndGlyphs" stroke="#231815" stroke-width="0.9">J-Link Port</text>
<text x="317" y="1091.4" font-size="22.8" fill="#231815" textLength="54" lengthAdjust="spacingAndGlyphs" stroke="#231815" stroke-width="0.9">RJ45</text>
<rect x="839.2" y="761.3" width="445.5" height="376" fill="#fff" stroke-width="1.1" rx="3"/>
<rect x="854.5" y="758.5" width="415.0" height="383.0" fill="#fff" shape-rendering="crispEdges"/>
<line x1="847.0" y1="762" x2="847.0" y2="1137" stroke-width="2" shape-rendering="crispEdges"/>
<line x1="863.0" y1="758" x2="863.0" y2="1141" stroke-width="2" shape-rendering="crispEdges"/>
<line x1="1261.0" y1="758" x2="1261.0" y2="1141" stroke-width="2" shape-rendering="crispEdges"/>
<line x1="1277.0" y1="762" x2="1277.0" y2="1137" stroke-width="2" shape-rendering="crispEdges"/>
<line x1="855" y1="761.5" x2="1270" y2="761.5" shape-rendering="crispEdges"/>
<line x1="840" y1="1137.5" x2="1284" y2="1137.5" shape-rendering="crispEdges"/>
<rect x="843.6" y="825.4000000000001" width="7.2" height="15.6" fill="#fff" rx="3.4"/>
<rect x="843.6" y="1058.2" width="7.2" height="15.6" fill="#fff" rx="3.4"/>
<rect x="1273.0" y="825.4000000000001" width="7.2" height="15.6" fill="#fff" rx="3.4"/>
<rect x="1273.0" y="1058.2" width="7.2" height="15.6" fill="#fff" rx="3.4"/>
<line x1="892.5" y1="1137" x2="892.5" y2="1141" shape-rendering="crispEdges"/>
<line x1="896.5" y1="1137" x2="896.5" y2="1141" shape-rendering="crispEdges"/>
<line x1="904.5" y1="1137" x2="904.5" y2="1141" shape-rendering="crispEdges"/>
<line x1="908.5" y1="1137" x2="908.5" y2="1141" shape-rendering="crispEdges"/>
<line x1="916.5" y1="1137" x2="916.5" y2="1141" shape-rendering="crispEdges"/>
<line x1="920.5" y1="1137" x2="920.5" y2="1141" shape-rendering="crispEdges"/>
<line x1="928.5" y1="1137" x2="928.5" y2="1141" shape-rendering="crispEdges"/>
<line x1="932.5" y1="1137" x2="932.5" y2="1141" shape-rendering="crispEdges"/>
<line x1="940.5" y1="1137" x2="940.5" y2="1141" shape-rendering="crispEdges"/>
<line x1="945.5" y1="1137" x2="945.5" y2="1141" shape-rendering="crispEdges"/>
<line x1="953.5" y1="1137" x2="953.5" y2="1141" shape-rendering="crispEdges"/>
<line x1="957.5" y1="1137" x2="957.5" y2="1141" shape-rendering="crispEdges"/>
<line x1="965.5" y1="1137" x2="965.5" y2="1141" shape-rendering="crispEdges"/>
<line x1="969.5" y1="1137" x2="969.5" y2="1141" shape-rendering="crispEdges"/>
<line x1="977.5" y1="1137" x2="977.5" y2="1141" shape-rendering="crispEdges"/>
<line x1="981.5" y1="1137" x2="981.5" y2="1141" shape-rendering="crispEdges"/>
<line x1="989.5" y1="1137" x2="989.5" y2="1141" shape-rendering="crispEdges"/>
<line x1="993.5" y1="1137" x2="993.5" y2="1141" shape-rendering="crispEdges"/>
<line x1="1001.5" y1="1137" x2="1001.5" y2="1141" shape-rendering="crispEdges"/>
<line x1="1006.5" y1="1137" x2="1006.5" y2="1141" shape-rendering="crispEdges"/>
<line x1="1014.5" y1="1137" x2="1014.5" y2="1141" shape-rendering="crispEdges"/>
<line x1="1018.5" y1="1137" x2="1018.5" y2="1141" shape-rendering="crispEdges"/>
<line x1="1026.5" y1="1137" x2="1026.5" y2="1141" shape-rendering="crispEdges"/>
<line x1="1030.5" y1="1137" x2="1030.5" y2="1141" shape-rendering="crispEdges"/>
<line x1="1038.5" y1="1137" x2="1038.5" y2="1141" shape-rendering="crispEdges"/>
<line x1="1042.5" y1="1137" x2="1042.5" y2="1141" shape-rendering="crispEdges"/>
<line x1="1050.5" y1="1137" x2="1050.5" y2="1141" shape-rendering="crispEdges"/>
<line x1="1054.5" y1="1137" x2="1054.5" y2="1141" shape-rendering="crispEdges"/>
<line x1="1062.5" y1="1137" x2="1062.5" y2="1141" shape-rendering="crispEdges"/>
<line x1="1067.5" y1="1137" x2="1067.5" y2="1141" shape-rendering="crispEdges"/>
<line x1="1075.5" y1="1137" x2="1075.5" y2="1141" shape-rendering="crispEdges"/>
<line x1="1079.5" y1="1137" x2="1079.5" y2="1141" shape-rendering="crispEdges"/>
<line x1="1087.5" y1="1137" x2="1087.5" y2="1141" shape-rendering="crispEdges"/>
<line x1="1091.5" y1="1137" x2="1091.5" y2="1141" shape-rendering="crispEdges"/>
<line x1="1099.5" y1="1137" x2="1099.5" y2="1141" shape-rendering="crispEdges"/>
<line x1="1103.5" y1="1137" x2="1103.5" y2="1141" shape-rendering="crispEdges"/>
<line x1="1111.5" y1="1137" x2="1111.5" y2="1141" shape-rendering="crispEdges"/>
<line x1="1115.5" y1="1137" x2="1115.5" y2="1141" shape-rendering="crispEdges"/>
<line x1="1123.5" y1="1137" x2="1123.5" y2="1141" shape-rendering="crispEdges"/>
<line x1="1128.5" y1="1137" x2="1128.5" y2="1141" shape-rendering="crispEdges"/>
<line x1="1136.5" y1="1137" x2="1136.5" y2="1141" shape-rendering="crispEdges"/>
<line x1="1140.5" y1="1137" x2="1140.5" y2="1141" shape-rendering="crispEdges"/>
<line x1="1148.5" y1="1137" x2="1148.5" y2="1141" shape-rendering="crispEdges"/>
<line x1="1152.5" y1="1137" x2="1152.5" y2="1141" shape-rendering="crispEdges"/>
<line x1="1160.5" y1="1137" x2="1160.5" y2="1141" shape-rendering="crispEdges"/>
<line x1="1164.5" y1="1137" x2="1164.5" y2="1141" shape-rendering="crispEdges"/>
<line x1="1172.5" y1="1137" x2="1172.5" y2="1141" shape-rendering="crispEdges"/>
<line x1="1176.5" y1="1137" x2="1176.5" y2="1141" shape-rendering="crispEdges"/>
<line x1="1184.5" y1="1137" x2="1184.5" y2="1141" shape-rendering="crispEdges"/>
<line x1="1189.5" y1="1137" x2="1189.5" y2="1141" shape-rendering="crispEdges"/>
<line x1="1197.5" y1="1137" x2="1197.5" y2="1141" shape-rendering="crispEdges"/>
<line x1="1201.5" y1="1137" x2="1201.5" y2="1141" shape-rendering="crispEdges"/>
<line x1="1209.5" y1="1137" x2="1209.5" y2="1141" shape-rendering="crispEdges"/>
<line x1="1213.5" y1="1137" x2="1213.5" y2="1141" shape-rendering="crispEdges"/>
<line x1="1221.5" y1="1137" x2="1221.5" y2="1141" shape-rendering="crispEdges"/>
<line x1="1225.5" y1="1137" x2="1225.5" y2="1141" shape-rendering="crispEdges"/>
<line x1="1233.5" y1="1137" x2="1233.5" y2="1141" shape-rendering="crispEdges"/>
<line x1="1237.5" y1="1137" x2="1237.5" y2="1141" shape-rendering="crispEdges"/>
<line x1="1245.5" y1="1137" x2="1245.5" y2="1141" shape-rendering="crispEdges"/>
<line x1="1250.5" y1="1137" x2="1250.5" y2="1141" shape-rendering="crispEdges"/>
<rect x="1044.5" y="1141.5" width="46.0" height="5.0" fill="#fff" shape-rendering="crispEdges"/>
<line x1="1056" y1="1148.2" x2="1080" y2="1148.2" stroke-dasharray="1.2 1.2"/>
<rect x="1165.5" y="1141.5" width="28.0" height="8.0" fill="#fff" shape-rendering="crispEdges"/>
<line x1="1172.5" y1="1141" x2="1172.5" y2="1150" shape-rendering="crispEdges"/>
<line x1="1187.5" y1="1141" x2="1187.5" y2="1150" shape-rendering="crispEdges"/>
<rect x="1231.5" y="1141.5" width="27.0" height="8.0" fill="#fff" shape-rendering="crispEdges"/>
<rect x="1233.5" y="1144.5" width="23.0" height="3.0" fill="none" shape-rendering="crispEdges"/>
<text x="872.3" y="778.4" font-size="10.6" fill="#231815" font-weight="bold" textLength="53" lengthAdjust="spacingAndGlyphs" stroke="#231815" stroke-width="0.8" style="font-family:'Liberation Serif',serif">StrongLED</text>
<circle cx="927.2" cy="771.6" r="0.9" fill="#231815" stroke-width="0.3"/>
<rect x="917.6" y="788.8" width="115.6" height="87" fill="#fff" stroke-width="1.2" rx="4"/>
<rect x="919.8" y="791" width="111.2" height="82.6" fill="none" stroke-width="1.2" rx="2.4"/>
<text x="947" y="898" font-size="12.6" fill="#231815" font-weight="bold" textLength="57.6" lengthAdjust="spacingAndGlyphs" stroke="#231815" stroke-width="0.9">DMX-800</text>
<text x="949" y="905.2" font-size="5.4" fill="#231815" font-weight="bold" textLength="52.6" lengthAdjust="spacingAndGlyphs" stroke="#231815" stroke-width="0.35">www.strongled.com</text>
<rect x="872.5" y="900.5" width="4.0" height="4.0" fill="none" shape-rendering="crispEdges"/>
<text x="877.6" y="905" font-size="5" fill="#231815" font-weight="bold" stroke="#231815" stroke-width="0.35">A</text>
<rect x="888.5" y="900.5" width="4.0" height="4.0" fill="none" shape-rendering="crispEdges"/>
<text x="893.4" y="905" font-size="5" fill="#231815" font-weight="bold" stroke="#231815" stroke-width="0.35">B</text>
<rect x="1052.8" y="773.4" width="157.2" height="132" fill="#fff" stroke-width="1.1" rx="4.5"/>
<circle cx="1079.4" cy="784.3" r="2.6" fill="#231815" stroke-width="0.6"/>
<text x="1079.4" y="794" font-size="4.8" fill="#231815" font-weight="bold" text-anchor="middle" stroke="#231815" stroke-width="0.35">PWR</text>
<circle cx="1101.8" cy="784.3" r="2.6" fill="#231815" stroke-width="0.6"/>
<text x="1101.8" y="794" font-size="4.8" fill="#231815" font-weight="bold" text-anchor="middle" stroke="#231815" stroke-width="0.35">PT1</text>
<circle cx="1124" cy="784.3" r="2.6" fill="#231815" stroke-width="0.6"/>
<text x="1124" y="794" font-size="4.8" fill="#231815" font-weight="bold" text-anchor="middle" stroke="#231815" stroke-width="0.35">PT2</text>
<circle cx="1146.1" cy="784.3" r="2.6" fill="#231815" stroke-width="0.6"/>
<text x="1146.1" y="794" font-size="4.8" fill="#231815" font-weight="bold" text-anchor="middle" stroke="#231815" stroke-width="0.35">PT3</text>
<circle cx="1168.6" cy="784.3" r="2.6" fill="#231815" stroke-width="0.6"/>
<text x="1168.6" y="794" font-size="4.8" fill="#231815" font-weight="bold" text-anchor="middle" stroke="#231815" stroke-width="0.35">PT4</text>
<rect x="1090.3" y="815.3" width="18.8" height="18.8" fill="#fff" rx="2"/>
<path d="M1099.7 819.6999999999999 L1103.1000000000001 823.3 L1101.1000000000001 823.3 L1101.1000000000001 829.3 L1098.3 829.3 L1098.3 823.3 L1096.3 823.3Z" fill="none" stroke-width="0.9"/>
<rect x="1153.4" y="815.3" width="19.6" height="18.8" fill="#fff" rx="2"/>
<path d="M1163.2 819.6999999999999 L1167.6000000000001 823.0999999999999 L1165.6000000000001 823.0999999999999 L1165.6000000000001 829.3 L1160.8 829.3 L1160.8 823.0999999999999 L1158.8 823.0999999999999Z" fill="none" stroke-width="0.9"/>
<rect x="1185.3" y="815.3" width="19.6" height="18.8" fill="#fff" rx="2"/>
<path d="M1195.1 819.6999999999999 L1198.5 823.3 L1196.5 823.3 L1196.5 829.3 L1193.6999999999998 829.3 L1193.6999999999998 823.3 L1191.6999999999998 823.3Z" fill="none" stroke-width="0.9"/>
<rect x="1058.4" y="846.6" width="19.2" height="18.8" fill="#fff" rx="2"/>
<path d="M1063.0 856.0 L1066.6 852.8 L1066.6 854.6 L1072.6 854.6 L1072.6 857.4 L1066.6 857.4 L1066.6 859.2Z" fill="none" stroke-width="0.9"/>
<rect x="1090.3" y="846.6" width="18.8" height="18.8" fill="#fff" rx="2"/>
<text x="1099.7" y="858" font-size="5.4" fill="#231815" font-weight="bold" text-anchor="middle" stroke="#231815" stroke-width="0.35">OK</text>
<rect x="1121.4" y="846.6" width="19.6" height="18.8" fill="#fff" rx="2"/>
<path d="M1136.2 856.0 L1132.6000000000001 852.8 L1132.6000000000001 854.6 L1126.6000000000001 854.6 L1126.6000000000001 857.4 L1132.6000000000001 857.4 L1132.6000000000001 859.2Z" fill="none" stroke-width="0.9"/>
<rect x="1153.4" y="846.6" width="19.6" height="18.8" fill="#fff" rx="2"/>
<path d="M1163.2 861.0 L1167.6000000000001 857.6 L1165.6000000000001 857.6 L1165.6000000000001 851.4 L1160.8 851.4 L1160.8 857.6 L1158.8 857.6Z" fill="none" stroke-width="0.9"/>
<rect x="1185.3" y="846.6" width="19.6" height="18.8" fill="#fff" rx="2"/>
<path d="M1195.1 861.0 L1198.5 857.4 L1196.5 857.4 L1196.5 851.4 L1193.6999999999998 851.4 L1193.6999999999998 857.4 L1191.6999999999998 857.4Z" fill="none" stroke-width="0.9"/>
<rect x="1090.3" y="878" width="18.8" height="18.8" fill="#fff" rx="2"/>
<path d="M1099.7 892.4 L1103.1000000000001 888.8 L1101.1000000000001 888.8 L1101.1000000000001 882.8 L1098.3 882.8 L1098.3 888.8 L1096.3 888.8Z" fill="none" stroke-width="0.9"/>
<rect x="1163.4" y="878" width="31.8" height="18.6" fill="#fff" rx="2"/>
<text x="1179.3" y="889.4" font-size="5.4" fill="#231815" font-weight="bold" text-anchor="middle" stroke="#231815" stroke-width="0.35">ESC</text>
<text x="1163.3" y="842.6" font-size="5.2" fill="#231815" font-weight="bold" text-anchor="middle" stroke="#231815" stroke-width="0.35">Source</text>
<text x="1194.8" y="842.6" font-size="5.2" fill="#231815" font-weight="bold" text-anchor="middle" stroke="#231815" stroke-width="0.35">Fine</text>
<rect x="904" y="1021" width="28" height="13" fill="#231815" stroke="none" shape-rendering="crispEdges"/>
<rect x="906.6" y="1023" width="4.0" height="5" fill="#fff" stroke="none"/>
<rect x="908.0" y="1025" width="1.2" height="1.2" fill="#231815" stroke="none"/>
<rect x="907.9" y="1028" width="1.4" height="3" fill="#fff" stroke="none"/>
<rect x="906.3" y="1030.2" width="4.7" height="1.5" fill="#fff" stroke="none"/>
<rect x="912.9" y="1023" width="4.0" height="5" fill="#fff" stroke="none"/>
<rect x="914.3" y="1025" width="1.2" height="1.2" fill="#231815" stroke="none"/>
<rect x="914.2" y="1028" width="1.4" height="3" fill="#fff" stroke="none"/>
<rect x="912.5" y="1030.2" width="4.7" height="1.5" fill="#fff" stroke="none"/>
<rect x="919.1" y="1023" width="4.0" height="5" fill="#fff" stroke="none"/>
<rect x="920.5" y="1025" width="1.2" height="1.2" fill="#231815" stroke="none"/>
<rect x="920.4" y="1028" width="1.4" height="3" fill="#fff" stroke="none"/>
<rect x="918.8" y="1030.2" width="4.7" height="1.5" fill="#fff" stroke="none"/>
<rect x="925.4" y="1023" width="4.0" height="5" fill="#fff" stroke="none"/>
<rect x="926.8" y="1025" width="1.2" height="1.2" fill="#231815" stroke="none"/>
<rect x="926.7" y="1028" width="1.4" height="3" fill="#fff" stroke="none"/>
<rect x="925.0" y="1030.2" width="4.7" height="1.5" fill="#fff" stroke="none"/>
<text x="888.6" y="1029.2" font-size="4.8" fill="#231815" font-weight="bold" textLength="12.4" lengthAdjust="spacingAndGlyphs" stroke="#231815" stroke-width="0.35">Port1</text>
<text x="905.2" y="1018.4" font-size="4.2" fill="#231815" font-weight="bold" textLength="25" lengthAdjust="spacingAndGlyphs" stroke="#231815" stroke-width="0.35">OPN GND B A</text>
<rect x="986" y="1021" width="28" height="13" fill="#231815" stroke="none" shape-rendering="crispEdges"/>
<rect x="988.6" y="1023" width="4.0" height="5" fill="#fff" stroke="none"/>
<rect x="990.0" y="1025" width="1.2" height="1.2" fill="#231815" stroke="none"/>
<rect x="989.9" y="1028" width="1.4" height="3" fill="#fff" stroke="none"/>
<rect x="988.3" y="1030.2" width="4.7" height="1.5" fill="#fff" stroke="none"/>
<rect x="994.9" y="1023" width="4.0" height="5" fill="#fff" stroke="none"/>
<rect x="996.3" y="1025" width="1.2" height="1.2" fill="#231815" stroke="none"/>
<rect x="996.2" y="1028" width="1.4" height="3" fill="#fff" stroke="none"/>
<rect x="994.5" y="1030.2" width="4.7" height="1.5" fill="#fff" stroke="none"/>
<rect x="1001.1" y="1023" width="4.0" height="5" fill="#fff" stroke="none"/>
<rect x="1002.5" y="1025" width="1.2" height="1.2" fill="#231815" stroke="none"/>
<rect x="1002.4" y="1028" width="1.4" height="3" fill="#fff" stroke="none"/>
<rect x="1000.8" y="1030.2" width="4.7" height="1.5" fill="#fff" stroke="none"/>
<rect x="1007.4" y="1023" width="4.0" height="5" fill="#fff" stroke="none"/>
<rect x="1008.8" y="1025" width="1.2" height="1.2" fill="#231815" stroke="none"/>
<rect x="1008.7" y="1028" width="1.4" height="3" fill="#fff" stroke="none"/>
<rect x="1007.0" y="1030.2" width="4.7" height="1.5" fill="#fff" stroke="none"/>
<text x="970.4" y="1029.2" font-size="4.8" fill="#231815" font-weight="bold" textLength="12.4" lengthAdjust="spacingAndGlyphs" stroke="#231815" stroke-width="0.35">Port2</text>
<text x="987" y="1018.4" font-size="4.2" fill="#231815" font-weight="bold" textLength="25" lengthAdjust="spacingAndGlyphs" stroke="#231815" stroke-width="0.35">OPN GND B A</text>
<rect x="1068" y="1021" width="28" height="13" fill="#231815" stroke="none" shape-rendering="crispEdges"/>
<rect x="1070.6" y="1023" width="4.0" height="5" fill="#fff" stroke="none"/>
<rect x="1072.0" y="1025" width="1.2" height="1.2" fill="#231815" stroke="none"/>
<rect x="1071.9" y="1028" width="1.4" height="3" fill="#fff" stroke="none"/>
<rect x="1070.3" y="1030.2" width="4.7" height="1.5" fill="#fff" stroke="none"/>
<rect x="1076.8" y="1023" width="4.0" height="5" fill="#fff" stroke="none"/>
<rect x="1078.3" y="1025" width="1.2" height="1.2" fill="#231815" stroke="none"/>
<rect x="1078.2" y="1028" width="1.4" height="3" fill="#fff" stroke="none"/>
<rect x="1076.5" y="1030.2" width="4.7" height="1.5" fill="#fff" stroke="none"/>
<rect x="1083.1" y="1023" width="4.0" height="5" fill="#fff" stroke="none"/>
<rect x="1084.5" y="1025" width="1.2" height="1.2" fill="#231815" stroke="none"/>
<rect x="1084.4" y="1028" width="1.4" height="3" fill="#fff" stroke="none"/>
<rect x="1082.8" y="1030.2" width="4.7" height="1.5" fill="#fff" stroke="none"/>
<rect x="1089.3" y="1023" width="4.0" height="5" fill="#fff" stroke="none"/>
<rect x="1090.8" y="1025" width="1.2" height="1.2" fill="#231815" stroke="none"/>
<rect x="1090.7" y="1028" width="1.4" height="3" fill="#fff" stroke="none"/>
<rect x="1089.0" y="1030.2" width="4.7" height="1.5" fill="#fff" stroke="none"/>
<text x="1052.6000000000001" y="1029.2" font-size="4.8" fill="#231815" font-weight="bold" textLength="12.4" lengthAdjust="spacingAndGlyphs" stroke="#231815" stroke-width="0.35">Port3</text>
<text x="1069.2" y="1018.4" font-size="4.2" fill="#231815" font-weight="bold" textLength="25" lengthAdjust="spacingAndGlyphs" stroke="#231815" stroke-width="0.35">OPN GND B A</text>
<rect x="1149" y="1021" width="28" height="13" fill="#231815" stroke="none" shape-rendering="crispEdges"/>
<rect x="1151.6" y="1023" width="4.0" height="5" fill="#fff" stroke="none"/>
<rect x="1153.0" y="1025" width="1.2" height="1.2" fill="#231815" stroke="none"/>
<rect x="1152.9" y="1028" width="1.4" height="3" fill="#fff" stroke="none"/>
<rect x="1151.3" y="1030.2" width="4.7" height="1.5" fill="#fff" stroke="none"/>
<rect x="1157.8" y="1023" width="4.0" height="5" fill="#fff" stroke="none"/>
<rect x="1159.3" y="1025" width="1.2" height="1.2" fill="#231815" stroke="none"/>
<rect x="1159.2" y="1028" width="1.4" height="3" fill="#fff" stroke="none"/>
<rect x="1157.5" y="1030.2" width="4.7" height="1.5" fill="#fff" stroke="none"/>
<rect x="1164.1" y="1023" width="4.0" height="5" fill="#fff" stroke="none"/>
<rect x="1165.5" y="1025" width="1.2" height="1.2" fill="#231815" stroke="none"/>
<rect x="1165.4" y="1028" width="1.4" height="3" fill="#fff" stroke="none"/>
<rect x="1163.8" y="1030.2" width="4.7" height="1.5" fill="#fff" stroke="none"/>
<rect x="1170.3" y="1023" width="4.0" height="5" fill="#fff" stroke="none"/>
<rect x="1171.8" y="1025" width="1.2" height="1.2" fill="#231815" stroke="none"/>
<rect x="1171.7" y="1028" width="1.4" height="3" fill="#fff" stroke="none"/>
<rect x="1170.0" y="1030.2" width="4.7" height="1.5" fill="#fff" stroke="none"/>
<text x="1133.8000000000002" y="1029.2" font-size="4.8" fill="#231815" font-weight="bold" textLength="12.4" lengthAdjust="spacingAndGlyphs" stroke="#231815" stroke-width="0.35">Port4</text>
<text x="1150.4" y="1018.4" font-size="4.2" fill="#231815" font-weight="bold" textLength="25" lengthAdjust="spacingAndGlyphs" stroke="#231815" stroke-width="0.35">OPN GND B A</text>
<rect x="945" y="1082" width="27" height="13" fill="#231815" stroke="none" shape-rendering="crispEdges"/>
<rect x="947.6" y="1084" width="3.8" height="5" fill="#fff" stroke="none"/>
<rect x="948.9" y="1086" width="1.2" height="1.2" fill="#231815" stroke="none"/>
<rect x="948.8" y="1089" width="1.4" height="3" fill="#fff" stroke="none"/>
<rect x="947.3" y="1091.2" width="4.4" height="1.5" fill="#fff" stroke="none"/>
<rect x="953.6" y="1084" width="3.8" height="5" fill="#fff" stroke="none"/>
<rect x="954.9" y="1086" width="1.2" height="1.2" fill="#231815" stroke="none"/>
<rect x="954.8" y="1089" width="1.4" height="3" fill="#fff" stroke="none"/>
<rect x="953.3" y="1091.2" width="4.4" height="1.5" fill="#fff" stroke="none"/>
<rect x="959.6" y="1084" width="3.8" height="5" fill="#fff" stroke="none"/>
<rect x="960.9" y="1086" width="1.2" height="1.2" fill="#231815" stroke="none"/>
<rect x="960.8" y="1089" width="1.4" height="3" fill="#fff" stroke="none"/>
<rect x="959.3" y="1091.2" width="4.4" height="1.5" fill="#fff" stroke="none"/>
<rect x="965.6" y="1084" width="3.8" height="5" fill="#fff" stroke="none"/>
<rect x="966.9" y="1086" width="1.2" height="1.2" fill="#231815" stroke="none"/>
<rect x="966.8" y="1089" width="1.4" height="3" fill="#fff" stroke="none"/>
<rect x="965.3" y="1091.2" width="4.4" height="1.5" fill="#fff" stroke="none"/>
<text x="929.6999999999999" y="1090.4" font-size="4.8" fill="#231815" font-weight="bold" textLength="12.4" lengthAdjust="spacingAndGlyphs" stroke="#231815" stroke-width="0.35">Port5</text>
<text x="946.3" y="1079.6" font-size="4.2" fill="#231815" font-weight="bold" textLength="25" lengthAdjust="spacingAndGlyphs" stroke="#231815" stroke-width="0.35">OPN GND B A</text>
<rect x="1027" y="1082" width="27" height="13" fill="#231815" stroke="none" shape-rendering="crispEdges"/>
<rect x="1029.6" y="1084" width="3.8" height="5" fill="#fff" stroke="none"/>
<rect x="1030.9" y="1086" width="1.2" height="1.2" fill="#231815" stroke="none"/>
<rect x="1030.8" y="1089" width="1.4" height="3" fill="#fff" stroke="none"/>
<rect x="1029.3" y="1091.2" width="4.4" height="1.5" fill="#fff" stroke="none"/>
<rect x="1035.6" y="1084" width="3.8" height="5" fill="#fff" stroke="none"/>
<rect x="1036.9" y="1086" width="1.2" height="1.2" fill="#231815" stroke="none"/>
<rect x="1036.8" y="1089" width="1.4" height="3" fill="#fff" stroke="none"/>
<rect x="1035.3" y="1091.2" width="4.4" height="1.5" fill="#fff" stroke="none"/>
<rect x="1041.6" y="1084" width="3.8" height="5" fill="#fff" stroke="none"/>
<rect x="1042.9" y="1086" width="1.2" height="1.2" fill="#231815" stroke="none"/>
<rect x="1042.8" y="1089" width="1.4" height="3" fill="#fff" stroke="none"/>
<rect x="1041.3" y="1091.2" width="4.4" height="1.5" fill="#fff" stroke="none"/>
<rect x="1047.6" y="1084" width="3.8" height="5" fill="#fff" stroke="none"/>
<rect x="1048.9" y="1086" width="1.2" height="1.2" fill="#231815" stroke="none"/>
<rect x="1048.8" y="1089" width="1.4" height="3" fill="#fff" stroke="none"/>
<rect x="1047.3" y="1091.2" width="4.4" height="1.5" fill="#fff" stroke="none"/>
<text x="1011.8000000000001" y="1090.4" font-size="4.8" fill="#231815" font-weight="bold" textLength="12.4" lengthAdjust="spacingAndGlyphs" stroke="#231815" stroke-width="0.35">Port6</text>
<text x="1028.4" y="1079.6" font-size="4.2" fill="#231815" font-weight="bold" textLength="25" lengthAdjust="spacingAndGlyphs" stroke="#231815" stroke-width="0.35">OPN GND B A</text>
<rect x="1110" y="1082" width="27" height="13" fill="#231815" stroke="none" shape-rendering="crispEdges"/>
<rect x="1112.6" y="1084" width="3.8" height="5" fill="#fff" stroke="none"/>
<rect x="1113.9" y="1086" width="1.2" height="1.2" fill="#231815" stroke="none"/>
<rect x="1113.8" y="1089" width="1.4" height="3" fill="#fff" stroke="none"/>
<rect x="1112.3" y="1091.2" width="4.4" height="1.5" fill="#fff" stroke="none"/>
<rect x="1118.6" y="1084" width="3.8" height="5" fill="#fff" stroke="none"/>
<rect x="1119.9" y="1086" width="1.2" height="1.2" fill="#231815" stroke="none"/>
<rect x="1119.8" y="1089" width="1.4" height="3" fill="#fff" stroke="none"/>
<rect x="1118.3" y="1091.2" width="4.4" height="1.5" fill="#fff" stroke="none"/>
<rect x="1124.6" y="1084" width="3.8" height="5" fill="#fff" stroke="none"/>
<rect x="1125.9" y="1086" width="1.2" height="1.2" fill="#231815" stroke="none"/>
<rect x="1125.8" y="1089" width="1.4" height="3" fill="#fff" stroke="none"/>
<rect x="1124.3" y="1091.2" width="4.4" height="1.5" fill="#fff" stroke="none"/>
<rect x="1130.6" y="1084" width="3.8" height="5" fill="#fff" stroke="none"/>
<rect x="1131.9" y="1086" width="1.2" height="1.2" fill="#231815" stroke="none"/>
<rect x="1131.8" y="1089" width="1.4" height="3" fill="#fff" stroke="none"/>
<rect x="1130.3" y="1091.2" width="4.4" height="1.5" fill="#fff" stroke="none"/>
<text x="1093.9" y="1090.4" font-size="4.8" fill="#231815" font-weight="bold" textLength="12.4" lengthAdjust="spacingAndGlyphs" stroke="#231815" stroke-width="0.35">Port7</text>
<text x="1110.5" y="1079.6" font-size="4.2" fill="#231815" font-weight="bold" textLength="25" lengthAdjust="spacingAndGlyphs" stroke="#231815" stroke-width="0.35">OPN GND B A</text>
<rect x="1191" y="1082" width="27" height="13" fill="#231815" stroke="none" shape-rendering="crispEdges"/>
<rect x="1193.6" y="1084" width="3.8" height="5" fill="#fff" stroke="none"/>
<rect x="1194.9" y="1086" width="1.2" height="1.2" fill="#231815" stroke="none"/>
<rect x="1194.8" y="1089" width="1.4" height="3" fill="#fff" stroke="none"/>
<rect x="1193.3" y="1091.2" width="4.4" height="1.5" fill="#fff" stroke="none"/>
<rect x="1199.6" y="1084" width="3.8" height="5" fill="#fff" stroke="none"/>
<rect x="1200.9" y="1086" width="1.2" height="1.2" fill="#231815" stroke="none"/>
<rect x="1200.8" y="1089" width="1.4" height="3" fill="#fff" stroke="none"/>
<rect x="1199.3" y="1091.2" width="4.4" height="1.5" fill="#fff" stroke="none"/>
<rect x="1205.6" y="1084" width="3.8" height="5" fill="#fff" stroke="none"/>
<rect x="1206.9" y="1086" width="1.2" height="1.2" fill="#231815" stroke="none"/>
<rect x="1206.8" y="1089" width="1.4" height="3" fill="#fff" stroke="none"/>
<rect x="1205.3" y="1091.2" width="4.4" height="1.5" fill="#fff" stroke="none"/>
<rect x="1211.6" y="1084" width="3.8" height="5" fill="#fff" stroke="none"/>
<rect x="1212.9" y="1086" width="1.2" height="1.2" fill="#231815" stroke="none"/>
<rect x="1212.8" y="1089" width="1.4" height="3" fill="#fff" stroke="none"/>
<rect x="1211.3" y="1091.2" width="4.4" height="1.5" fill="#fff" stroke="none"/>
<text x="1175.2" y="1090.4" font-size="4.8" fill="#231815" font-weight="bold" textLength="12.4" lengthAdjust="spacingAndGlyphs" stroke="#231815" stroke-width="0.35">Port8</text>
<text x="1191.8" y="1079.6" font-size="4.2" fill="#231815" font-weight="bold" textLength="25" lengthAdjust="spacingAndGlyphs" stroke="#231815" stroke-width="0.35">OPN GND B A</text>
<line x1="872" y1="1102.5" x2="1252" y2="1102.5" shape-rendering="crispEdges"/>
<rect x="945.5" y="1115.5" width="21.0" height="16.0" fill="#fff" shape-rendering="crispEdges"/>
<path d="M948.4 1118.4 L964 1118.4 L964 1126 L961 1126 L961 1129.4 L951.4 1129.4 L951.4 1126 L948.4 1126 Z" fill="none"/>
<text x="956.2" y="1112.4" font-size="4.6" fill="#231815" font-weight="bold" text-anchor="middle" stroke="#231815" stroke-width="0.35">RJ45</text>
<rect x="1000.5" y="1128.5" width="36.0" height="3.0" fill="#fff" shape-rendering="crispEdges"/>
<text x="1018.5" y="1125.4" font-size="4.6" fill="#231815" font-weight="bold" text-anchor="middle" stroke="#231815" stroke-width="0.35">SD</text>
<rect x="1048.5" y="1111.5" width="37.0" height="20.0" fill="#fff" shape-rendering="crispEdges"/>
<rect x="1058.5" y="1114.5" width="18.0" height="8.0" fill="#fff" shape-rendering="crispEdges"/>
<rect x="1059.8" y="1116.2" width="2.8" height="4" fill="#231815" stroke="none"/>
<rect x="1063.9" y="1116.2" width="2.8" height="4" fill="#231815" stroke="none"/>
<rect x="1068.0" y="1116.2" width="2.8" height="4" fill="#231815" stroke="none"/>
<rect x="1072.1" y="1116.2" width="2.8" height="4" fill="#231815" stroke="none"/>
<circle cx="1053.6" cy="1127.6" r="2.3" fill="#231815" stroke-width="0.6"/>
<path d="M1052.10 1127.6 L1055.10 1127.6 M1053.6 1126.10 L1053.6 1129.10" fill="none" stroke="#fff" stroke-width="0.5"/>
<circle cx="1080.6" cy="1127.6" r="2.3" fill="#231815" stroke-width="0.6"/>
<path d="M1079.10 1127.6 L1082.10 1127.6 M1080.6 1126.10 L1080.6 1129.10" fill="none" stroke="#fff" stroke-width="0.5"/>
<path d="M1055.6 1118.2 l-2.4 -1.4 l0 2.8Z" fill="#231815" stroke-width="0.3"/>
<path d="M1078.8 1118.2 l2.4 -1.4 l0 2.8Z" fill="#231815" stroke-width="0.3"/>
<text x="1067" y="1109" font-size="4.2" fill="#231815" font-weight="bold" textLength="22" lengthAdjust="spacingAndGlyphs" text-anchor="middle" stroke="#231815" stroke-width="0.35">OPN GND B A</text>
<text x="1090.4" y="1123" font-size="4.8" fill="#231815" font-weight="bold" textLength="14.6" lengthAdjust="spacingAndGlyphs" stroke="#231815" stroke-width="0.35">J-Link</text>
<rect x="1160.4" y="1115.4" width="38.2" height="16.2" fill="#fff" rx="3"/>
<path d="M1170.6 1119 L1188.6 1119 Q1191 1119 1190.4 1121.4 L1189.4 1126.4 Q1189 1128.4 1187 1128.4 L1172.2 1128.4 Q1170.2 1128.4 1169.8 1126.4 L1168.8 1121.4 Q1168.2 1119 1170.6 1119Z" fill="#fff" stroke-width="1.2"/>
<circle cx="1173.6" cy="1122" r="0.6" fill="#231815" stroke-width="0.3"/>
<circle cx="1176.6" cy="1122" r="0.6" fill="#231815" stroke-width="0.3"/>
<circle cx="1179.6" cy="1122" r="0.6" fill="#231815" stroke-width="0.3"/>
<circle cx="1182.6" cy="1122" r="0.6" fill="#231815" stroke-width="0.3"/>
<circle cx="1185.6" cy="1122" r="0.6" fill="#231815" stroke-width="0.3"/>
<circle cx="1175.1" cy="1125.4" r="0.6" fill="#231815" stroke-width="0.3"/>
<circle cx="1178.1" cy="1125.4" r="0.6" fill="#231815" stroke-width="0.3"/>
<circle cx="1181.1" cy="1125.4" r="0.6" fill="#231815" stroke-width="0.3"/>
<circle cx="1184.1" cy="1125.4" r="0.6" fill="#231815" stroke-width="0.3"/>
<circle cx="1164" cy="1123.6" r="1.3" fill="none" stroke-width="0.9"/>
<circle cx="1195" cy="1123.6" r="1.3" fill="none" stroke-width="0.9"/>
<text x="1179.6" y="1112.4" font-size="4.6" fill="#231815" font-weight="bold" text-anchor="middle" stroke="#231815" stroke-width="0.35">RS232</text>
<rect x="1222.5" y="1106.5" width="18.0" height="25.0" fill="#fff" shape-rendering="crispEdges"/>
<rect x="1224.5" y="1108.5" width="14.0" height="21.0" fill="none" shape-rendering="crispEdges"/>
<line x1="1231.5" y1="1111" x2="1231.5" y2="1118" shape-rendering="crispEdges"/>
<circle cx="1231.4" cy="1124" r="2" fill="none" stroke-width="1.2"/>
<text x="1244" y="1115.6" font-size="4.8" fill="#231815" font-weight="bold" stroke="#231815" stroke-width="0.35">ON</text>
<text x="1244" y="1127.2" font-size="4.8" fill="#231815" font-weight="bold" stroke="#231815" stroke-width="0.35">OFF</text>
<path d="M1233.6 1021.4 Q1239.4 1021.8 1239.4 1028 L1239.4 1049 Q1239.4 1056.2 1243.4 1056.8 Q1239.4 1057.4 1239.4 1064.6 L1239.4 1086 Q1239.4 1092 1233.6 1092.4" fill="none"/>
<line x1="1243" y1="1056.5" x2="1296" y2="1056.5" shape-rendering="crispEdges"/>
<path d="M1302.4 1056.5 L1295.2 1060.3 L1295.2 1052.7Z" fill="#231815" stroke-width="0.6"/>
<text x="1306.3" y="1063.8" font-size="24" fill="#231815" textLength="200" lengthAdjust="spacingAndGlyphs" stroke="#231815" stroke-width="0.9">8 DMX Control ports</text>
<!-- sec_sys -->
<rect x="100" y="1262" width="1416" height="3" fill="#4b2384" stroke="none" shape-rendering="crispEdges"/>
<rect x="100" y="1262" width="383" height="41" fill="#4b2384" stroke="none" shape-rendering="crispEdges"/>
<text x="116" y="1290.6" font-size="28.5" fill="#fff" font-weight="bold" textLength="350.4" lengthAdjust="spacingAndGlyphs" stroke="#fff" stroke-width="1.0">System Schematic Diagram:</text>
<defs><linearGradient id="gTop" x1="0" y1="0" x2="1" y2="1"><stop offset="0" stop-color="#4a4747"/><stop offset="1" stop-color="#343232"/></linearGradient><linearGradient id="gLeft" x1="0" y1="0" x2="1" y2="1"><stop offset="0" stop-color="#454343"/><stop offset="1" stop-color="#373535"/></linearGradient><linearGradient id="gRed" x1="0" y1="0" x2="1" y2="0"><stop offset="0" stop-color="#d3332f"/><stop offset="1" stop-color="#cf2f2c"/></linearGradient><linearGradient id="gStrip" x1="0" y1="1" x2="1" y2="0"><stop offset="0" stop-color="#96585a"/><stop offset="0.5" stop-color="#a94e4e"/><stop offset="1" stop-color="#9c5557"/></linearGradient><radialGradient id="gKnob" cx="0.4" cy="0.35" r="0.7"><stop offset="0" stop-color="#f2f2f2"/><stop offset="1" stop-color="#8d8d8d"/></radialGradient></defs>
<path d="M235.2 1661.9 L239.5 1656.0 L347.8 1745.6 L501.5 1662.9 L501.8 1667.8 L340.0 1756.9Z" fill="#272424" stroke="none"/>
<path d="M232.1 1599.9 L344.9 1681.6 L345.9 1747.0 L239.5 1656.4Z" fill="url(#gLeft)" stroke="none"/>
<path d="M343.9 1681.6 L507.0 1607.2 L504.4 1665.5 L346.3 1752.1Z" fill="url(#gRed)" stroke="none"/>
<path d="M232.1 1599.3 L388.2 1547.7 L507.0 1606.4 L344.3 1682.0Z" fill="url(#gTop)" stroke="none"/>
<path d="M233.2 1598.9 L387.2 1548.1 L408.9 1559.5 L254.3 1607.2Z" fill="url(#gStrip)" stroke="none"/>
<path d="M254.3 1607.2 L408.9 1559.5 L430.6 1570.4 L416.8 1577.3 L403.0 1570.4 L269.1 1612.7Z" fill="#5a5253" stroke="none"/>
<path d="M232.1 1599.3 L388.2 1547.7 L507.0 1606.4 L344.3 1682.0Z" fill="none" stroke="#b9b4b4" stroke-width="1.2" stroke-opacity="0.75"/>
<path d="M234.0 1603.3 L344.3 1684.6 L505.4 1609.2" fill="none" stroke="#8d8585" stroke-width="1.6" stroke-opacity="0.8"/>
<path d="M268.1 1609.8 L313.4 1595.0 L336.0 1607.8 L288.8 1625.9Z" fill="#1f1d1f" stroke="none"/>
<path d="M316.3 1589.1 L379.4 1568.4 L399.1 1579.2 L336.0 1602.9Z" fill="#2e2b2d" stroke="none"/>
<ellipse cx="345.9" cy="1590.1" rx="3.6" ry="2.2" fill="#c0188c" stroke="none" transform="rotate(-20 345.9 1590.1)"/>
<ellipse cx="367.5" cy="1582.6" rx="3.6" ry="2.2" fill="#c0188c" stroke="none" transform="rotate(-20 367.5 1582.6)"/>
<ellipse cx="379.0" cy="1577.9" rx="3.6" ry="2.2" fill="#c0188c" stroke="none" transform="rotate(-20 379.0 1577.9)"/>
<ellipse cx="389.2" cy="1583.2" rx="3.6" ry="2.2" fill="#c0188c" stroke="none" transform="rotate(-20 389.2 1583.2)"/>
<ellipse cx="377.8" cy="1587.7" rx="3.6" ry="2.2" fill="#c0188c" stroke="none" transform="rotate(-20 377.8 1587.7)"/>
<ellipse cx="366.6" cy="1591.6" rx="3.6" ry="2.2" fill="#c0188c" stroke="none" transform="rotate(-20 366.6 1591.6)"/>
<ellipse cx="355.1" cy="1596.0" rx="3.6" ry="2.2" fill="#c0188c" stroke="none" transform="rotate(-20 355.1 1596.0)"/>
<ellipse cx="342.3" cy="1600.5" rx="3.6" ry="2.2" fill="#c0188c" stroke="none" transform="rotate(-20 342.3 1600.5)"/>
<g transform="translate(348.8 1617.0) matrix(0.925 -0.38 0.5 0.55 0 0)">
<text x="0" y="0" font-size="9.6" fill="#f4f4f4" font-weight="bold" textLength="51" lengthAdjust="spacingAndGlyphs" stroke="none" style="font-family:'Liberation Serif',serif">StrongLED</text>
</g>
<path d="M364.3 1673.1 L366.9 1672.1 L367.1 1678.3 L365.0 1680.1 L363.3 1678.9 L364.5 1677.3Z" fill="#1c1a1a" stroke="none"/>
<path d="M372.2 1669.4 L374.8 1668.4 L375.0 1674.6 L372.9 1676.4 L371.2 1675.2 L372.4 1673.6Z" fill="#1c1a1a" stroke="none"/>
<path d="M380.2 1665.6 L382.8 1664.6 L383.0 1670.8 L380.9 1672.6 L379.2 1671.4 L380.4 1669.8Z" fill="#1c1a1a" stroke="none"/>
<path d="M388.1 1661.8 L390.7 1660.8 L390.9 1667.0 L388.8 1668.8 L387.1 1667.6 L388.3 1666.0Z" fill="#1c1a1a" stroke="none"/>
<path d="M396.0 1658.1 L398.6 1657.1 L398.8 1663.3 L396.7 1665.1 L395.0 1663.9 L396.2 1662.3Z" fill="#1c1a1a" stroke="none"/>
<path d="M404.0 1654.3 L406.6 1653.3 L406.8 1659.5 L404.7 1661.3 L403.0 1660.1 L404.2 1658.5Z" fill="#1c1a1a" stroke="none"/>
<path d="M411.9 1650.6 L414.5 1649.6 L414.7 1655.8 L412.6 1657.6 L410.9 1656.4 L412.1 1654.8Z" fill="#1c1a1a" stroke="none"/>
<path d="M419.8 1646.8 L422.4 1645.8 L422.6 1652.0 L420.5 1653.8 L418.8 1652.6 L420.0 1651.0Z" fill="#1c1a1a" stroke="none"/>
<path d="M427.8 1643.1 L430.4 1642.1 L430.6 1648.3 L428.5 1650.1 L426.8 1648.9 L428.0 1647.3Z" fill="#1c1a1a" stroke="none"/>
<path d="M435.7 1639.3 L438.3 1638.3 L438.5 1644.5 L436.4 1646.3 L434.7 1645.1 L435.9 1643.5Z" fill="#1c1a1a" stroke="none"/>
<path d="M443.7 1635.6 L446.3 1634.6 L446.5 1640.8 L444.4 1642.6 L442.7 1641.4 L443.9 1639.8Z" fill="#1c1a1a" stroke="none"/>
<path d="M451.6 1631.8 L454.2 1630.8 L454.4 1637.0 L452.3 1638.8 L450.6 1637.6 L451.8 1636.0Z" fill="#1c1a1a" stroke="none"/>
<path d="M459.5 1628.1 L462.1 1627.1 L462.3 1633.3 L460.2 1635.1 L458.5 1633.9 L459.7 1632.3Z" fill="#1c1a1a" stroke="none"/>
<path d="M467.5 1624.3 L470.1 1623.3 L470.3 1629.5 L468.2 1631.3 L466.5 1630.1 L467.7 1628.5Z" fill="#1c1a1a" stroke="none"/>
<path d="M475.4 1620.6 L478.0 1619.6 L478.2 1625.8 L476.1 1627.6 L474.4 1626.4 L475.6 1624.8Z" fill="#1c1a1a" stroke="none"/>
<path d="M483.4 1616.8 L486.0 1615.8 L486.2 1622.0 L484.1 1623.8 L482.4 1622.6 L483.6 1621.0Z" fill="#1c1a1a" stroke="none"/>
<path d="M491.3 1613.0 L493.9 1612.0 L494.1 1618.2 L492.0 1620.0 L490.3 1618.8 L491.5 1617.2Z" fill="#1c1a1a" stroke="none"/>
<path d="M489.6 1635.4 L499.1 1631.4 L499.5 1645.2 L490.0 1649.1Z" fill="#1d1b1b" stroke="none"/>
<ellipse cx="493.6" cy="1658.4" rx="6.2" ry="7" fill="#1a1818" stroke="none"/>
<path d="M466.0 1649.1 L481.8 1642.6 L482.2 1651.1 L466.4 1657.6Z" fill="#8f8f8f" stroke="none"/>
<path d="M469.6 1649.1 L478.8 1645.6 L479.0 1650.5 L469.9 1654.5Z" fill="#3a3a3a" stroke="none"/>
<path d="M425.6 1670.2 L444.3 1662.9 L444.9 1675.7 L426.6 1683.2Z" fill="#8fd9a5" stroke="none"/>
<path d="M429.0 1672.2 L441.4 1667.5 L441.8 1673.8 L429.6 1678.7Z" fill="#5fb57c" stroke="none"/>
<path d="M406.9 1681.2 L423.7 1673.4 L424.3 1676.1 L407.7 1684.0Z" fill="#d8d8d8" stroke="none"/>
<path d="M385.3 1689.9 L396.1 1686.0 L396.7 1697.0 L385.9 1700.9Z" fill="#c9c9c9" stroke="none"/>
<path d="M387.2 1691.9 L394.5 1689.1 L394.9 1695.8 L387.6 1698.6Z" fill="#2a2a2a" stroke="none"/>
<circle cx="347.5" cy="1689.9" r="1.6" fill="#b32522" stroke="none"/>
<ellipse cx="254.3" cy="1676.7" rx="2.2" ry="1.3" fill="#e8e8e8" stroke="none"/>
<ellipse cx="317.9" cy="1732.8" rx="2.2" ry="1.3" fill="#e8e8e8" stroke="none"/>
<ellipse cx="389.2" cy="1553.7" rx="3.2" ry="3.4" fill="#9a9a9a" stroke="none"/>
<ellipse cx="389.2" cy="1550.7" rx="4.2" ry="2.6" fill="url(#gKnob)" stroke="none"/>
<ellipse cx="490.6" cy="1599.0" rx="3.2" ry="3.4" fill="#9a9a9a" stroke="none"/>
<ellipse cx="490.6" cy="1596.0" rx="4.2" ry="2.6" fill="url(#gKnob)" stroke="none"/>
<ellipse cx="337.0" cy="1667.3" rx="3.2" ry="3.4" fill="#9a9a9a" stroke="none"/>
<ellipse cx="337.0" cy="1664.3" rx="4.2" ry="2.6" fill="url(#gKnob)" stroke="none"/>
<ellipse cx="241.5" cy="1603.3" rx="3.2" ry="3.4" fill="#9a9a9a" stroke="none"/>
<ellipse cx="241.5" cy="1600.3" rx="4.2" ry="2.6" fill="url(#gKnob)" stroke="none"/>
<defs><radialGradient id="gLens" cx="0.5" cy="0.45" r="0.62"><stop offset="0" stop-color="#dfe4f3"/><stop offset="0.6" stop-color="#c5cce0"/><stop offset="1" stop-color="#a9afc2"/></radialGradient><linearGradient id="gFin" x1="0" y1="0" x2="0" y2="1"><stop offset="0" stop-color="#a6a9b1"/><stop offset="1" stop-color="#9c9fa6"/></linearGradient><g id="fx" stroke="none">
<path d="M-18.5 -5.0 L-20.4 -1.8 L-21.9 4.6 L-19.9 7.3 L-20.8 9.5 L-18.6 9.9 L-19.0 12.6 L-16.5 12.3 L-16.3 15.3 L-13.6 14.4 L-12.9 17.5 L-10.2 16.0 L-8.9 19.2 L-6.3 17.1 L-4.6 20.3 L-2.1 17.6 L0.0 20.6 L2.1 17.6 L4.6 20.3 L6.3 17.1 L8.9 19.2 L10.2 16.0 L12.9 17.5 L13.6 14.4 L16.3 15.3 L16.5 12.3 L19.0 12.6 L18.6 9.9 L20.8 9.5 L19.9 7.3 L21.9 4.6 L20.4 -1.8 L18.5 -5.0Z" fill="url(#gFin)"/>
<line x1="-14.5" y1="-1.8" x2="-18.6" y2="9.9" stroke="#777a83" stroke-width="1"/>
<line x1="-12.9" y1="-1.5" x2="-16.5" y2="12.3" stroke="#777a83" stroke-width="1"/>
<line x1="-10.6" y1="-1.0" x2="-13.6" y2="14.4" stroke="#777a83" stroke-width="1"/>
<line x1="-7.9" y1="-0.3" x2="-10.2" y2="16.0" stroke="#777a83" stroke-width="1"/>
<line x1="-4.9" y1="0.4" x2="-6.3" y2="17.1" stroke="#777a83" stroke-width="1"/>
<line x1="-1.7" y1="1.1" x2="-2.1" y2="17.6" stroke="#777a83" stroke-width="1"/>
<line x1="1.7" y1="1.1" x2="2.1" y2="17.6" stroke="#777a83" stroke-width="1"/>
<line x1="4.9" y1="0.4" x2="6.3" y2="17.1" stroke="#777a83" stroke-width="1"/>
<line x1="7.9" y1="-0.3" x2="10.2" y2="16.0" stroke="#777a83" stroke-width="1"/>
<line x1="10.6" y1="-1.0" x2="13.6" y2="14.4" stroke="#777a83" stroke-width="1"/>
<line x1="12.9" y1="-1.5" x2="16.5" y2="12.3" stroke="#777a83" stroke-width="1"/>
<line x1="14.5" y1="-1.8" x2="18.6" y2="9.9" stroke="#777a83" stroke-width="1"/>
<path d="M-20 -1 L-21.2 8" stroke="#8a8d95" stroke-width="1" fill="none"/><path d="M20 -1 L21.2 8" stroke="#8a8d95" stroke-width="1" fill="none"/>
<path d="M-18.6 -3 C-18.8 -8 -17 -13.5 -12.8 -17 C-10 -19.6 -6 -21.5 0 -21.5 C6 -21.5 10 -19.6 12.8 -17 C17 -13.5 18.8 -8 18.6 -3 Q10 5.6 0 6 Q-10 5.6 -18.6 -3Z" fill="url(#gLens)"/>
<path d="M-9 -15 L-1 -18 L8 -15.5 L12 -8 L8 -1 L-4 -0.5 L-11 -6Z" fill="#e0e5f4" opacity="0.75"/>
<path d="M-8 -12 L-5 -11 L-6 -8 Z M6 -9 L9 -5 L6 -2 L5 -6Z M-3 -3 L0 -2.4 L-1.6 -0.8Z M-2 -14 L3 -13 L1 -11Z" fill="#8f97b0" opacity="0.7"/>
<path d="M-16.5 -2.4 Q-8 3 0 3.2 Q8 3 16.5 -2.4" fill="none" stroke="#9298aa" stroke-width="0.9" opacity="0.8"/>
</g></defs>
<line x1="515" y1="1604.5" x2="579" y2="1604.5" shape-rendering="crispEdges"/>
<line x1="579.5" y1="1604" x2="579.5" y2="1451" shape-rendering="crispEdges"/>
<line x1="579" y1="1451.5" x2="737" y2="1451.5" shape-rendering="crispEdges"/>
<line x1="515" y1="1624.5" x2="737" y2="1624.5" shape-rendering="crispEdges"/>
<line x1="515" y1="1645.5" x2="579" y2="1645.5" shape-rendering="crispEdges"/>
<line x1="579.5" y1="1645" x2="579.5" y2="1857" shape-rendering="crispEdges"/>
<line x1="579" y1="1857.5" x2="737" y2="1857.5" shape-rendering="crispEdges"/>
<line x1="890" y1="1451.5" x2="985" y2="1451.5" shape-rendering="crispEdges"/>
<line x1="1131" y1="1451.5" x2="1226" y2="1451.5" shape-rendering="crispEdges"/>
<line x1="723" y1="1495.5" x2="878" y2="1495.5" shape-rendering="crispEdges"/>
<line x1="756.5" y1="1461" x2="756.5" y2="1495" shape-rendering="crispEdges"/>
<line x1="877.5" y1="1461" x2="877.5" y2="1495" shape-rendering="crispEdges"/>
<line x1="938" y1="1495.5" x2="1119" y2="1495.5" shape-rendering="crispEdges"/>
<line x1="997.5" y1="1461" x2="997.5" y2="1495" shape-rendering="crispEdges"/>
<line x1="1118.5" y1="1461" x2="1118.5" y2="1495" shape-rendering="crispEdges"/>
<line x1="1183" y1="1495.5" x2="1360" y2="1495.5" shape-rendering="crispEdges"/>
<line x1="1238.5" y1="1461" x2="1238.5" y2="1495" shape-rendering="crispEdges"/>
<line x1="1359.5" y1="1461" x2="1359.5" y2="1495" shape-rendering="crispEdges"/>
<use href="#fx" x="756.4" y="1447.4"/>
<use href="#fx" x="877.2" y="1447.4"/>
<use href="#fx" x="997.6" y="1447.4"/>
<use href="#fx" x="1118.2" y="1447.4"/>
<use href="#fx" x="1238.6" y="1447.4"/>
<use href="#fx" x="1359" y="1447.4"/>
<rect x="796.0" y="1448.0" width="4.0" height="4.0" fill="#231815" stroke="none" rx="1.1"/>
<rect x="803.7" y="1448.0" width="4.0" height="4.0" fill="#231815" stroke="none" rx="1.1"/>
<rect x="811.4" y="1448.0" width="4.0" height="4.0" fill="#231815" stroke="none" rx="1.1"/>
<rect x="819.2" y="1448.0" width="4.0" height="4.0" fill="#231815" stroke="none" rx="1.1"/>
<rect x="826.9" y="1448.0" width="4.0" height="4.0" fill="#231815" stroke="none" rx="1.1"/>
<rect x="834.6" y="1448.0" width="4.0" height="4.0" fill="#231815" stroke="none" rx="1.1"/>
<rect x="1036.6" y="1448.0" width="4.0" height="4.0" fill="#231815" stroke="none" rx="1.1"/>
<rect x="1044.3" y="1448.0" width="4.0" height="4.0" fill="#231815" stroke="none" rx="1.1"/>
<rect x="1052.0" y="1448.0" width="4.0" height="4.0" fill="#231815" stroke="none" rx="1.1"/>
<rect x="1059.8" y="1448.0" width="4.0" height="4.0" fill="#231815" stroke="none" rx="1.1"/>
<rect x="1067.5" y="1448.0" width="4.0" height="4.0" fill="#231815" stroke="none" rx="1.1"/>
<rect x="1075.2" y="1448.0" width="4.0" height="4.0" fill="#231815" stroke="none" rx="1.1"/>
<rect x="1277.6" y="1448.0" width="4.0" height="4.0" fill="#231815" stroke="none" rx="1.1"/>
<rect x="1285.3" y="1448.0" width="4.0" height="4.0" fill="#231815" stroke="none" rx="1.1"/>
<rect x="1293.0" y="1448.0" width="4.0" height="4.0" fill="#231815" stroke="none" rx="1.1"/>
<rect x="1300.8" y="1448.0" width="4.0" height="4.0" fill="#231815" stroke="none" rx="1.1"/>
<rect x="1308.5" y="1448.0" width="4.0" height="4.0" fill="#231815" stroke="none" rx="1.1"/>
<rect x="1316.2" y="1448.0" width="4.0" height="4.0" fill="#231815" stroke="none" rx="1.1"/>
<text x="737.8" y="1416.9" font-size="16.9" fill="#231815" font-weight="bold" textLength="39" lengthAdjust="spacingAndGlyphs" stroke="#231815" stroke-width="0.25">NO.1</text>
<text x="852.4" y="1416.9" font-size="16.9" fill="#231815" font-weight="bold" textLength="51.6" lengthAdjust="spacingAndGlyphs" stroke="#231815" stroke-width="0.25">NO.20</text>
<text x="973.4" y="1416.9" font-size="16.9" fill="#231815" font-weight="bold" textLength="50.4" lengthAdjust="spacingAndGlyphs" stroke="#231815" stroke-width="0.25">NO.21</text>
<text x="1092.6" y="1416.9" font-size="16.9" fill="#231815" font-weight="bold" textLength="52.4" lengthAdjust="spacingAndGlyphs" stroke="#231815" stroke-width="0.25">NO.40</text>
<text x="1214.4" y="1416.9" font-size="16.9" fill="#231815" font-weight="bold" textLength="50.6" lengthAdjust="spacingAndGlyphs" stroke="#231815" stroke-width="0.25">NO.41</text>
<text x="1294.8" y="1416.9" font-size="16.9" fill="#231815" font-weight="bold" textLength="130.4" lengthAdjust="spacingAndGlyphs" stroke="#231815" stroke-width="0.25">NO.170/NO.256</text>
<text x="634.2" y="1446.5" font-size="16.9" fill="#231815" font-weight="bold" textLength="40.4" lengthAdjust="spacingAndGlyphs" stroke="#231815" stroke-width="0.25">NO.1</text>
<text x="723.4" y="1514.7" font-size="16.9" fill="#231815" font-weight="bold" textLength="56.6" lengthAdjust="spacingAndGlyphs" stroke="#231815" stroke-width="0.25">DC24V</text>
<text x="939.4" y="1514.7" font-size="16.9" fill="#231815" font-weight="bold" textLength="56.6" lengthAdjust="spacingAndGlyphs" stroke="#231815" stroke-width="0.25">DC24V</text>
<text x="1185.2" y="1514.7" font-size="16.9" fill="#231815" font-weight="bold" textLength="56.6" lengthAdjust="spacingAndGlyphs" stroke="#231815" stroke-width="0.25">DC24V</text>
<line x1="890" y1="1624.5" x2="985" y2="1624.5" shape-rendering="crispEdges"/>
<line x1="1131" y1="1624.5" x2="1226" y2="1624.5" shape-rendering="crispEdges"/>
<line x1="723" y1="1668.5" x2="878" y2="1668.5" shape-rendering="crispEdges"/>
<line x1="756.5" y1="1634" x2="756.5" y2="1668" shape-rendering="crispEdges"/>
<line x1="877.5" y1="1634" x2="877.5" y2="1668" shape-rendering="crispEdges"/>
<line x1="938" y1="1668.5" x2="1119" y2="1668.5" shape-rendering="crispEdges"/>
<line x1="997.5" y1="1634" x2="997.5" y2="1668" shape-rendering="crispEdges"/>
<line x1="1118.5" y1="1634" x2="1118.5" y2="1668" shape-rendering="crispEdges"/>
<line x1="1183" y1="1668.5" x2="1360" y2="1668.5" shape-rendering="crispEdges"/>
<line x1="1238.5" y1="1634" x2="1238.5" y2="1668" shape-rendering="crispEdges"/>
<line x1="1359.5" y1="1634" x2="1359.5" y2="1668" shape-rendering="crispEdges"/>
<use href="#fx" x="756.4" y="1620.6"/>
<use href="#fx" x="877.2" y="1620.6"/>
<use href="#fx" x="997.6" y="1620.6"/>
<use href="#fx" x="1118.2" y="1620.6"/>
<use href="#fx" x="1238.6" y="1620.6"/>
<use href="#fx" x="1359" y="1620.6"/>
<rect x="796.0" y="1621.2" width="4.0" height="4.0" fill="#231815" stroke="none" rx="1.1"/>
<rect x="803.7" y="1621.2" width="4.0" height="4.0" fill="#231815" stroke="none" rx="1.1"/>
<rect x="811.4" y="1621.2" width="4.0" height="4.0" fill="#231815" stroke="none" rx="1.1"/>
<rect x="819.2" y="1621.2" width="4.0" height="4.0" fill="#231815" stroke="none" rx="1.1"/>
<rect x="826.9" y="1621.2" width="4.0" height="4.0" fill="#231815" stroke="none" rx="1.1"/>
<rect x="834.6" y="1621.2" width="4.0" height="4.0" fill="#231815" stroke="none" rx="1.1"/>
<rect x="1036.6" y="1621.2" width="4.0" height="4.0" fill="#231815" stroke="none" rx="1.1"/>
<rect x="1044.3" y="1621.2" width="4.0" height="4.0" fill="#231815" stroke="none" rx="1.1"/>
<rect x="1052.0" y="1621.2" width="4.0" height="4.0" fill="#231815" stroke="none" rx="1.1"/>
<rect x="1059.8" y="1621.2" width="4.0" height="4.0" fill="#231815" stroke="none" rx="1.1"/>
<rect x="1067.5" y="1621.2" width="4.0" height="4.0" fill="#231815" stroke="none" rx="1.1"/>
<rect x="1075.2" y="1621.2" width="4.0" height="4.0" fill="#231815" stroke="none" rx="1.1"/>
<rect x="1277.6" y="1621.2" width="4.0" height="4.0" fill="#231815" stroke="none" rx="1.1"/>
<rect x="1285.3" y="1621.2" width="4.0" height="4.0" fill="#231815" stroke="none" rx="1.1"/>
<rect x="1293.0" y="1621.2" width="4.0" height="4.0" fill="#231815" stroke="none" rx="1.1"/>
<rect x="1300.8" y="1621.2" width="4.0" height="4.0" fill="#231815" stroke="none" rx="1.1"/>
<rect x="1308.5" y="1621.2" width="4.0" height="4.0" fill="#231815" stroke="none" rx="1.1"/>
<rect x="1316.2" y="1621.2" width="4.0" height="4.0" fill="#231815" stroke="none" rx="1.1"/>
<text x="737.8" y="1590.1000000000001" font-size="16.9" fill="#231815" font-weight="bold" textLength="39" lengthAdjust="spacingAndGlyphs" stroke="#231815" stroke-width="0.25">NO.1</text>
<text x="852.4" y="1590.1000000000001" font-size="16.9" fill="#231815" font-weight="bold" textLength="51.6" lengthAdjust="spacingAndGlyphs" stroke="#231815" stroke-width="0.25">NO.20</text>
<text x="973.4" y="1590.1000000000001" font-size="16.9" fill="#231815" font-weight="bold" textLength="50.4" lengthAdjust="spacingAndGlyphs" stroke="#231815" stroke-width="0.25">NO.21</text>
<text x="1092.6" y="1590.1000000000001" font-size="16.9" fill="#231815" font-weight="bold" textLength="52.4" lengthAdjust="spacingAndGlyphs" stroke="#231815" stroke-width="0.25">NO.40</text>
<text x="1214.4" y="1590.1000000000001" font-size="16.9" fill="#231815" font-weight="bold" textLength="50.6" lengthAdjust="spacingAndGlyphs" stroke="#231815" stroke-width="0.25">NO.41</text>
<text x="1294.8" y="1590.1000000000001" font-size="16.9" fill="#231815" font-weight="bold" textLength="130.4" lengthAdjust="spacingAndGlyphs" stroke="#231815" stroke-width="0.25">NO.170/NO.256</text>
<text x="634.2" y="1619.7" font-size="16.9" fill="#231815" font-weight="bold" textLength="40.4" lengthAdjust="spacingAndGlyphs" stroke="#231815" stroke-width="0.25">NO.2</text>
<text x="723.4" y="1687.9" font-size="16.9" fill="#231815" font-weight="bold" textLength="56.6" lengthAdjust="spacingAndGlyphs" stroke="#231815" stroke-width="0.25">DC24V</text>
<text x="939.4" y="1687.9" font-size="16.9" fill="#231815" font-weight="bold" textLength="56.6" lengthAdjust="spacingAndGlyphs" stroke="#231815" stroke-width="0.25">DC24V</text>
<text x="1185.2" y="1687.9" font-size="16.9" fill="#231815" font-weight="bold" textLength="56.6" lengthAdjust="spacingAndGlyphs" stroke="#231815" stroke-width="0.25">DC24V</text>
<line x1="890" y1="1857.5" x2="985" y2="1857.5" shape-rendering="crispEdges"/>
<line x1="1131" y1="1857.5" x2="1226" y2="1857.5" shape-rendering="crispEdges"/>
<line x1="723" y1="1901.5" x2="878" y2="1901.5" shape-rendering="crispEdges"/>
<line x1="756.5" y1="1867" x2="756.5" y2="1901" shape-rendering="crispEdges"/>
<line x1="877.5" y1="1867" x2="877.5" y2="1901" shape-rendering="crispEdges"/>
<line x1="938" y1="1901.5" x2="1119" y2="1901.5" shape-rendering="crispEdges"/>
<line x1="997.5" y1="1867" x2="997.5" y2="1901" shape-rendering="crispEdges"/>
<line x1="1118.5" y1="1867" x2="1118.5" y2="1901" shape-rendering="crispEdges"/>
<line x1="1183" y1="1901.5" x2="1360" y2="1901.5" shape-rendering="crispEdges"/>
<line x1="1238.5" y1="1867" x2="1238.5" y2="1901" shape-rendering="crispEdges"/>
<line x1="1359.5" y1="1867" x2="1359.5" y2="1901" shape-rendering="crispEdges"/>
<use href="#fx" x="756.4" y="1853.4"/>
<use href="#fx" x="877.2" y="1853.4"/>
<use href="#fx" x="997.6" y="1853.4"/>
<use href="#fx" x="1118.2" y="1853.4"/>
<use href="#fx" x="1238.6" y="1853.4"/>
<use href="#fx" x="1359" y="1853.4"/>
<rect x="796.0" y="1854.0" width="4.0" height="4.0" fill="#231815" stroke="none" rx="1.1"/>
<rect x="803.7" y="1854.0" width="4.0" height="4.0" fill="#231815" stroke="none" rx="1.1"/>
<rect x="811.4" y="1854.0" width="4.0" height="4.0" fill="#231815" stroke="none" rx="1.1"/>
<rect x="819.2" y="1854.0" width="4.0" height="4.0" fill="#231815" stroke="none" rx="1.1"/>
<rect x="826.9" y="1854.0" width="4.0" height="4.0" fill="#231815" stroke="none" rx="1.1"/>
<rect x="834.6" y="1854.0" width="4.0" height="4.0" fill="#231815" stroke="none" rx="1.1"/>
<rect x="1036.6" y="1854.0" width="4.0" height="4.0" fill="#231815" stroke="none" rx="1.1"/>
<rect x="1044.3" y="1854.0" width="4.0" height="4.0" fill="#231815" stroke="none" rx="1.1"/>
<rect x="1052.0" y="1854.0" width="4.0" height="4.0" fill="#231815" stroke="none" rx="1.1"/>
<rect x="1059.8" y="1854.0" width="4.0" height="4.0" fill="#231815" stroke="none" rx="1.1"/>
<rect x="1067.5" y="1854.0" width="4.0" height="4.0" fill="#231815" stroke="none" rx="1.1"/>
<rect x="1075.2" y="1854.0" width="4.0" height="4.0" fill="#231815" stroke="none" rx="1.1"/>
<rect x="1277.6" y="1854.0" width="4.0" height="4.0" fill="#231815" stroke="none" rx="1.1"/>
<rect x="1285.3" y="1854.0" width="4.0" height="4.0" fill="#231815" stroke="none" rx="1.1"/>
<rect x="1293.0" y="1854.0" width="4.0" height="4.0" fill="#231815" stroke="none" rx="1.1"/>
<rect x="1300.8" y="1854.0" width="4.0" height="4.0" fill="#231815" stroke="none" rx="1.1"/>
<rect x="1308.5" y="1854.0" width="4.0" height="4.0" fill="#231815" stroke="none" rx="1.1"/>
<rect x="1316.2" y="1854.0" width="4.0" height="4.0" fill="#231815" stroke="none" rx="1.1"/>
<text x="737.8" y="1822.9" font-size="16.9" fill="#231815" font-weight="bold" textLength="39" lengthAdjust="spacingAndGlyphs" stroke="#231815" stroke-width="0.25">NO.1</text>
<text x="852.4" y="1822.9" font-size="16.9" fill="#231815" font-weight="bold" textLength="51.6" lengthAdjust="spacingAndGlyphs" stroke="#231815" stroke-width="0.25">NO.20</text>
<text x="973.4" y="1822.9" font-size="16.9" fill="#231815" font-weight="bold" textLength="50.4" lengthAdjust="spacingAndGlyphs" stroke="#231815" stroke-width="0.25">NO.21</text>
<text x="1092.6" y="1822.9" font-size="16.9" fill="#231815" font-weight="bold" textLength="52.4" lengthAdjust="spacingAndGlyphs" stroke="#231815" stroke-width="0.25">NO.40</text>
<text x="1214.4" y="1822.9" font-size="16.9" fill="#231815" font-weight="bold" textLength="50.6" lengthAdjust="spacingAndGlyphs" stroke="#231815" stroke-width="0.25">NO.41</text>
<text x="1294.8" y="1822.9" font-size="16.9" fill="#231815" font-weight="bold" textLength="130.4" lengthAdjust="spacingAndGlyphs" stroke="#231815" stroke-width="0.25">NO.170/NO.256</text>
<text x="634.2" y="1852.5" font-size="16.9" fill="#231815" font-weight="bold" textLength="40.4" lengthAdjust="spacingAndGlyphs" stroke="#231815" stroke-width="0.25">NO.8</text>
<text x="723.4" y="1920.7" font-size="16.9" fill="#231815" font-weight="bold" textLength="56.6" lengthAdjust="spacingAndGlyphs" stroke="#231815" stroke-width="0.25">DC24V</text>
<text x="939.4" y="1920.7" font-size="16.9" fill="#231815" font-weight="bold" textLength="56.6" lengthAdjust="spacingAndGlyphs" stroke="#231815" stroke-width="0.25">DC24V</text>
<text x="1185.2" y="1920.7" font-size="16.9" fill="#231815" font-weight="bold" textLength="56.6" lengthAdjust="spacingAndGlyphs" stroke="#231815" stroke-width="0.25">DC24V</text>
<rect x="658.3" y="1720.1" width="3.8" height="3.8" fill="#231815" stroke="none" rx="1.1"/>
<rect x="658.3" y="1727.9" width="3.8" height="3.8" fill="#231815" stroke="none" rx="1.1"/>
<rect x="658.3" y="1735.7" width="3.8" height="3.8" fill="#231815" stroke="none" rx="1.1"/>
<rect x="658.3" y="1743.5" width="3.8" height="3.8" fill="#231815" stroke="none" rx="1.1"/>
<rect x="658.3" y="1751.3" width="3.8" height="3.8" fill="#231815" stroke="none" rx="1.1"/>
<rect x="658.3" y="1759.1" width="3.8" height="3.8" fill="#231815" stroke="none" rx="1.1"/>
<text x="774.3" y="1990.3" font-size="21.6" fill="#231815" textLength="663.5" lengthAdjust="spacingAndGlyphs" stroke="#231815" stroke-width="0.75" xml:space="preserve">(Illustration: Each light fixture represents one pixel,  three channels)</text>
<!-- sec_footer -->
<line x1="100" y1="2126.5" x2="1516" y2="2126.5" shape-rendering="crispEdges"/>
<text y="2184.2" font-weight="bold" fill="#b5117f" stroke="#b5117f" stroke-width="1.6"><tspan x="96.6" font-size="65" textLength="38" lengthAdjust="spacingAndGlyphs">S</tspan><tspan x="136.6" font-size="60.5" textLength="156" lengthAdjust="spacingAndGlyphs">trong</tspan><tspan x="294" font-size="65" textLength="106.4" lengthAdjust="spacingAndGlyphs">LED</tspan></text>
<circle cx="409.9" cy="2149.3" r="6.6" fill="none" stroke="#b5117f" stroke-width="1.7"/>
<text x="409.9" y="2153.2" font-size="10.6" fill="#b5117f" font-weight="bold" text-anchor="middle" stroke="none">R</text>
<rect x="100.5" y="2209.5" width="67.0" height="68.0" fill="none" stroke-width="3" shape-rendering="crispEdges"/>
<path d="M129.4 2229.4 A15.9 14.9 0 0 0 129.4 2259.2" fill="none" stroke-width="4.2"/>
<path d="M156.9 2229.4 A15.9 14.9 0 0 0 156.9 2259.2" fill="none" stroke-width="4.2"/>
<line x1="142" y1="2244.0" x2="154" y2="2244.0" stroke-width="4" shape-rendering="crispEdges"/>
<circle cx="237.3" cy="2241.4" r="24.4" fill="none" stroke-width="12.8"/>
<rect x="200.5" y="2232.5" width="75.0" height="18.0" fill="#231815" stroke="#fff" shape-rendering="crispEdges"/>
<text x="237.5" y="2246.6" font-size="14.6" fill="#fff" font-weight="bold" textLength="62" lengthAdjust="spacingAndGlyphs" text-anchor="middle" stroke="none" style="font-family:'Liberation Serif',serif" xml:space="preserve">ISO 9001</text>
<defs><path id="arcT" d="M217.2 2232 A22.5 22.5 0 0 1 257.4 2232"/><path id="arcB" d="M213.6 2249.6 A26 26 0 0 0 261 2249.6"/></defs>
<text font-size="7" font-weight="bold" fill="#fff" stroke="none" style="font-family:'Liberation Sans','Noto Sans CJK SC',sans-serif"><textPath href="#arcT" startOffset="50%" text-anchor="middle">质量体系</textPath></text>
<text font-size="5.6" font-weight="bold" fill="#fff" stroke="#fff" stroke-width="0.3"><textPath href="#arcB" startOffset="50%" text-anchor="middle">QUALITY SYSTEM</textPath></text>
<text x="202.3" y="2287.7" font-size="11.2" fill="#231815" font-weight="bold" textLength="67.6" lengthAdjust="spacingAndGlyphs" stroke="#231815" stroke-width="0.3">ISO9001:2008</text>
<rect x="310.4" y="2214.6" width="85.4" height="57.2" fill="none" stroke-width="2.2" rx="4"/>
<circle cx="351.6" cy="2240.2" r="21.6" fill="none" stroke-width="2.6"/>
<ellipse cx="351.6" cy="2240.2" rx="10.5" ry="21.6" stroke-width="2.4"/>
<line x1="352.0" y1="2219" x2="352.0" y2="2262" stroke-width="2" shape-rendering="crispEdges"/>
<path d="M331.5 2232 Q351.6 2226 371.7 2232 M330.2 2241 L373 2241 M332.6 2250.5 Q351.6 2256.5 370.6 2250.5" fill="none" stroke-width="2.4"/>
<path d="M317 2245.5 Q316 2238 326 2235.5 L372 2228.2 L388.6 2228 L379.6 2234.6 Q362 2242 340 2248.4 Q322 2252.4 317 2245.5Z" fill="#231815" stroke-width="0.8"/>
<text x="351.6" y="2267.6" font-size="7.6" fill="#231815" font-weight="bold" textLength="30" lengthAdjust="spacingAndGlyphs" text-anchor="middle" stroke="#231815" stroke-width="0.5" font-style="italic">CAEMS</text>
<text x="316" y="2287.7" font-size="11.2" fill="#231815" font-weight="bold" textLength="73.6" lengthAdjust="spacingAndGlyphs" stroke="#231815" stroke-width="0.3">ISO14001:2004</text>
<line x1="452.5" y1="2141" x2="452.5" y2="2288" shape-rendering="crispEdges"/>
<line x1="904.5" y1="2141" x2="904.5" y2="2288" shape-rendering="crispEdges"/>
<text x="481.2" y="2154.5" font-size="17.2" fill="#231815" font-weight="bold" textLength="375.6" lengthAdjust="spacingAndGlyphs" stroke="#231815" stroke-width="1.3">STRONGLED LIGHTING SYSTEM GROUP</text>
<text x="481.2" y="2174.7" font-size="17.4" fill="#231815" textLength="343.2" lengthAdjust="spacingAndGlyphs" stroke="#231815" stroke-width="0.75">STRONG LED LIGHTING SYSTEMS (CAYMAN) CO., LTD.</text>
<text x="481.2" y="2194.9" font-size="17.4" fill="#231815" textLength="396.2" lengthAdjust="spacingAndGlyphs" stroke="#231815" stroke-width="0.75">SHANGHAI GRAND CANYON LED LIGHTING SYSTEMS CO., LTD.</text>
<text x="481.2" y="2214" font-size="17.4" fill="#231815" textLength="392" lengthAdjust="spacingAndGlyphs" stroke="#231815" stroke-width="0.75">GRAND CANYON LED LIGHTING SYSTEMS (SUZHOU) CO., LTD.</text>
<text x="481.2" y="2231.2" font-size="13.4" fill="#231815" textLength="386" lengthAdjust="spacingAndGlyphs" stroke="#231815" stroke-width="0.55">NO. 2888, Linhu Avenue, Foho Economic Development Zone,</text>
<text x="481.2" y="2246.3" font-size="13.4" fill="#231815" textLength="286.6" lengthAdjust="spacingAndGlyphs" stroke="#231815" stroke-width="0.55">Wujiang City, Jiangsu Province, China 215211</text>
<rect x="481.4" y="2255.2" width="21.6" height="14" fill="#8a8a8a" stroke="none" rx="4.2"/>
<text x="492.59999999999997" y="2269.0" font-size="13.6" fill="#fff" font-weight="bold" text-anchor="middle" stroke="#fff" stroke-width="0.6">T</text>
<text x="509.9" y="2268" font-size="17" fill="#231815" font-weight="bold" textLength="160.6" lengthAdjust="spacingAndGlyphs" stroke="#231815" stroke-width="0.5">+86-512-8286 8008</text>
<rect x="680.6" y="2255.2" width="21.6" height="14" fill="#8a8a8a" stroke="none" rx="4.2"/>
<text x="691.8000000000001" y="2269.0" font-size="13.6" fill="#fff" font-weight="bold" text-anchor="middle" stroke="#fff" stroke-width="0.6">F</text>
<text x="708.3" y="2268" font-size="17" fill="#231815" font-weight="bold" textLength="159" lengthAdjust="spacingAndGlyphs" stroke="#231815" stroke-width="0.5">+86-512-8286 8001</text>
<rect x="481.4" y="2274.6" width="21.6" height="14" fill="#8a8a8a" stroke="none" rx="4.2"/>
<text x="492.59999999999997" y="2288.4" font-size="13.6" fill="#fff" font-weight="bold" text-anchor="middle" stroke="#fff" stroke-width="0.6">E</text>
<text x="509.9" y="2287.7" font-size="16.6" fill="#231815" font-weight="bold" textLength="185.8" lengthAdjust="spacingAndGlyphs" stroke="#231815" stroke-width="0.5">global@strongled.com</text>
<text x="926.5" y="2151.6" font-size="13.2" fill="#231815" textLength="581.6" lengthAdjust="spacingAndGlyphs" stroke="#231815" stroke-width="0.55">Copyright © 2010 – 2014 Strong LED Lighting Systems (Cayman) Co., Ltd. All rights reserved.</text>
<text x="926.5" y="2168.1" font-size="13.2" fill="#231815" textLength="582.4" lengthAdjust="spacingAndGlyphs" stroke="#231815" stroke-width="0.55">City Life, I-City Vision, City Pearl, StrongCont, StrongPlayer, StrongPower, Versalink, FT-Link,</text>
<text x="926.5" y="2184.6" font-size="13.2" fill="#231815" textLength="577.6" lengthAdjust="spacingAndGlyphs" stroke="#231815" stroke-width="0.55">FT-MASTER, J-Link, J-net, Mini-MASTER are either registered trademarks or trademarks of</text>
<text x="926.5" y="2201.1" font-size="13.2" fill="#231815" textLength="579.6" lengthAdjust="spacingAndGlyphs" stroke="#231815" stroke-width="0.55">Strong LED Lighting Systems (Cayman) Co., Ltd. in China and / or other countries. All other</text>
<text x="926.5" y="2217.6" font-size="13.2" fill="#231815" textLength="582.4" lengthAdjust="spacingAndGlyphs" stroke="#231815" stroke-width="0.55">brands or product names are trademarks or registered trademarks of their respective owners.</text>
<text x="926.5" y="2234.1" font-size="13.2" fill="#231815" textLength="549" lengthAdjust="spacingAndGlyphs" stroke="#231815" stroke-width="0.55">All values are typical values measured under laboratory conditions. Due to continuous</text>
<text x="926.5" y="2250.6" font-size="13.2" fill="#231815" textLength="498" lengthAdjust="spacingAndGlyphs" stroke="#231815" stroke-width="0.55">improvements and innovations, specifications may change without prior notice.</text>
<text x="926.5" y="2287" font-size="34" fill="#231815" font-weight="bold" textLength="341.6" lengthAdjust="spacingAndGlyphs" stroke="#231815" stroke-width="1.1">www.strongled.com</text>
<text x="1409.6" y="2288" font-size="23.4" fill="#231815" textLength="174.4" lengthAdjust="spacingAndGlyphs" stroke="none">STR-06-01-15-V1</text>
</svg>
</body>
</html>
